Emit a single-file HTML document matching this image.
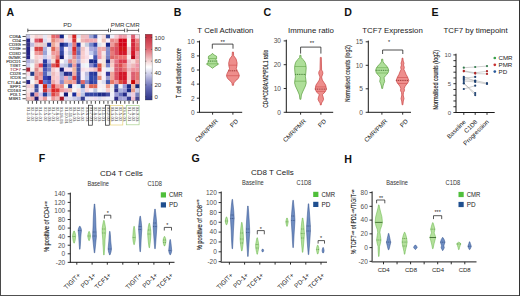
<!DOCTYPE html><html><head><meta charset="utf-8"><style>html,body{margin:0;padding:0;background:#fff;}svg{display:block;}</style></head><body>
<svg width="520" height="296" viewBox="0 0 520 296" font-family='"Liberation Sans", sans-serif'>
<rect x="0" y="0" width="520" height="296" fill="#fff"/>
<text x="6.5" y="16" font-size="10.5" text-anchor="start" fill="#111" font-weight="bold" >A</text>
<line x1="27.8" y1="30.4" x2="108.5" y2="30.4" stroke="#222" stroke-width="0.7" />
<line x1="27.8" y1="28.6" x2="27.8" y2="32.2" stroke="#222" stroke-width="0.7" />
<line x1="108.5" y1="28.6" x2="108.5" y2="32.2" stroke="#222" stroke-width="0.7" />
<line x1="110.5" y1="30.4" x2="124.6" y2="30.4" stroke="#222" stroke-width="0.7" />
<line x1="110.5" y1="28.6" x2="110.5" y2="32.2" stroke="#222" stroke-width="0.7" />
<line x1="124.6" y1="28.6" x2="124.6" y2="32.2" stroke="#222" stroke-width="0.7" />
<line x1="127.1" y1="30.4" x2="138.6" y2="30.4" stroke="#222" stroke-width="0.7" />
<line x1="127.1" y1="28.6" x2="127.1" y2="32.2" stroke="#222" stroke-width="0.7" />
<line x1="138.6" y1="28.6" x2="138.6" y2="32.2" stroke="#222" stroke-width="0.7" />
<text x="67.5" y="27.3" font-size="6.2" text-anchor="middle" fill="#333" font-weight="normal" >PD</text>
<text x="117.7" y="27.3" font-size="6.2" text-anchor="middle" fill="#333" font-weight="normal" >PMR</text>
<text x="132.6" y="27.3" font-size="6.2" text-anchor="middle" fill="#333" font-weight="normal" >CMR</text>
<rect x="26.10" y="34.40" width="4.25" height="4.20" fill="#c5c5e7"/>
<rect x="30.30" y="34.40" width="4.25" height="4.20" fill="#f8e7e7"/>
<rect x="34.50" y="34.40" width="4.25" height="4.20" fill="#f4cdcd"/>
<rect x="38.70" y="34.40" width="4.25" height="4.20" fill="#f4d6d6"/>
<rect x="42.90" y="34.40" width="4.25" height="4.20" fill="#e7e7f4"/>
<rect x="47.10" y="34.40" width="4.25" height="4.20" fill="#f8dede"/>
<rect x="51.30" y="34.40" width="4.25" height="4.20" fill="#e76767"/>
<rect x="55.50" y="34.40" width="4.25" height="4.20" fill="#de6778"/>
<rect x="59.70" y="34.40" width="4.25" height="4.20" fill="#132489"/>
<rect x="63.90" y="34.40" width="4.25" height="4.20" fill="#f8f8f8"/>
<rect x="68.10" y="34.40" width="4.25" height="4.20" fill="#f8cdcd"/>
<rect x="72.30" y="34.40" width="4.25" height="4.20" fill="#d62424"/>
<rect x="76.50" y="34.40" width="4.25" height="4.20" fill="#dee7f8"/>
<rect x="80.70" y="34.40" width="4.25" height="4.20" fill="#efbcbc"/>
<rect x="84.90" y="34.40" width="4.25" height="4.20" fill="#efbcc5"/>
<rect x="89.10" y="34.40" width="4.25" height="4.20" fill="#9aa3d6"/>
<rect x="93.30" y="34.40" width="4.25" height="4.20" fill="#4656ab"/>
<rect x="97.50" y="34.40" width="4.25" height="4.20" fill="#f8eff8"/>
<rect x="101.70" y="34.40" width="4.25" height="4.20" fill="#f8dede"/>
<rect x="105.90" y="34.40" width="4.25" height="4.20" fill="#35469a"/>
<rect x="110.10" y="34.40" width="4.25" height="4.20" fill="#efeff8"/>
<rect x="114.30" y="34.40" width="4.25" height="4.20" fill="#f7cad3"/>
<rect x="118.50" y="34.40" width="4.25" height="4.20" fill="#ee95a7"/>
<rect x="122.70" y="34.40" width="4.25" height="4.20" fill="#ee9ea7"/>
<rect x="126.90" y="34.40" width="4.25" height="4.20" fill="#f7e5ee"/>
<rect x="131.10" y="34.40" width="4.25" height="4.20" fill="#dc5f71"/>
<rect x="135.30" y="34.40" width="4.25" height="4.20" fill="#f7dce5"/>
<rect x="26.10" y="38.55" width="4.25" height="4.20" fill="#242489"/>
<rect x="30.30" y="38.55" width="4.25" height="4.20" fill="#f4eff4"/>
<rect x="34.50" y="38.55" width="4.25" height="4.20" fill="#de5667"/>
<rect x="38.70" y="38.55" width="4.25" height="4.20" fill="#cd3546"/>
<rect x="42.90" y="38.55" width="4.25" height="4.20" fill="#dedeef"/>
<rect x="47.10" y="38.55" width="4.25" height="4.20" fill="#f8e7ef"/>
<rect x="51.30" y="38.55" width="4.25" height="4.20" fill="#e78978"/>
<rect x="55.50" y="38.55" width="4.25" height="4.20" fill="#efabab"/>
<rect x="59.70" y="38.55" width="4.25" height="4.20" fill="#efb4bc"/>
<rect x="63.90" y="38.55" width="4.25" height="4.20" fill="#efe7f8"/>
<rect x="68.10" y="38.55" width="4.25" height="4.20" fill="#f8dee7"/>
<rect x="72.30" y="38.55" width="4.25" height="4.20" fill="#d63535"/>
<rect x="76.50" y="38.55" width="4.25" height="4.20" fill="#f8f8ef"/>
<rect x="80.70" y="38.55" width="4.25" height="4.20" fill="#efb4b4"/>
<rect x="84.90" y="38.55" width="4.25" height="4.20" fill="#efa3ab"/>
<rect x="89.10" y="38.55" width="4.25" height="4.20" fill="#efabb4"/>
<rect x="93.30" y="38.55" width="4.25" height="4.20" fill="#efabb4"/>
<rect x="97.50" y="38.55" width="4.25" height="4.20" fill="#f8f8f8"/>
<rect x="101.70" y="38.55" width="4.25" height="4.20" fill="#efc5bc"/>
<rect x="105.90" y="38.55" width="4.25" height="4.20" fill="#f8eff8"/>
<rect x="110.10" y="38.55" width="4.25" height="4.20" fill="#e78989"/>
<rect x="114.30" y="38.55" width="4.25" height="4.20" fill="#ee9595"/>
<rect x="118.50" y="38.55" width="4.25" height="4.20" fill="#d30517"/>
<rect x="122.70" y="38.55" width="4.25" height="4.20" fill="#d30517"/>
<rect x="126.90" y="38.55" width="4.25" height="4.20" fill="#f7f7ee"/>
<rect x="131.10" y="38.55" width="4.25" height="4.20" fill="#d3293b"/>
<rect x="135.30" y="38.55" width="4.25" height="4.20" fill="#ee8383"/>
<rect x="26.10" y="42.70" width="4.25" height="4.20" fill="#353589"/>
<rect x="30.30" y="42.70" width="4.25" height="4.20" fill="#bcbcde"/>
<rect x="34.50" y="42.70" width="4.25" height="4.20" fill="#efc5c5"/>
<rect x="38.70" y="42.70" width="4.25" height="4.20" fill="#efcdc5"/>
<rect x="42.90" y="42.70" width="4.25" height="4.20" fill="#decdd6"/>
<rect x="47.10" y="42.70" width="4.25" height="4.20" fill="#24359a"/>
<rect x="51.30" y="42.70" width="4.25" height="4.20" fill="#efab9a"/>
<rect x="55.50" y="42.70" width="4.25" height="4.20" fill="#f8cdcd"/>
<rect x="59.70" y="42.70" width="4.25" height="4.20" fill="#132489"/>
<rect x="63.90" y="42.70" width="4.25" height="4.20" fill="#3d4eab"/>
<rect x="68.10" y="42.70" width="4.25" height="4.20" fill="#abb4e7"/>
<rect x="72.30" y="42.70" width="4.25" height="4.20" fill="#e77878"/>
<rect x="76.50" y="42.70" width="4.25" height="4.20" fill="#1b2c9a"/>
<rect x="80.70" y="42.70" width="4.25" height="4.20" fill="#f8efef"/>
<rect x="84.90" y="42.70" width="4.25" height="4.20" fill="#c5cdde"/>
<rect x="89.10" y="42.70" width="4.25" height="4.20" fill="#7889cd"/>
<rect x="93.30" y="42.70" width="4.25" height="4.20" fill="#2c3da3"/>
<rect x="97.50" y="42.70" width="4.25" height="4.20" fill="#dee7ef"/>
<rect x="101.70" y="42.70" width="4.25" height="4.20" fill="#f8efef"/>
<rect x="105.90" y="42.70" width="4.25" height="4.20" fill="#132489"/>
<rect x="110.10" y="42.70" width="4.25" height="4.20" fill="#ef9a9a"/>
<rect x="114.30" y="42.70" width="4.25" height="4.20" fill="#dc5f5f"/>
<rect x="118.50" y="42.70" width="4.25" height="4.20" fill="#d30517"/>
<rect x="122.70" y="42.70" width="4.25" height="4.20" fill="#d30517"/>
<rect x="126.90" y="42.70" width="4.25" height="4.20" fill="#f7f7ee"/>
<rect x="131.10" y="42.70" width="4.25" height="4.20" fill="#d3293b"/>
<rect x="135.30" y="42.70" width="4.25" height="4.20" fill="#e57171"/>
<rect x="26.10" y="46.85" width="4.25" height="4.20" fill="#242489"/>
<rect x="30.30" y="46.85" width="4.25" height="4.20" fill="#efeff8"/>
<rect x="34.50" y="46.85" width="4.25" height="4.20" fill="#d64646"/>
<rect x="38.70" y="46.85" width="4.25" height="4.20" fill="#d64646"/>
<rect x="42.90" y="46.85" width="4.25" height="4.20" fill="#abb4de"/>
<rect x="47.10" y="46.85" width="4.25" height="4.20" fill="#efeff8"/>
<rect x="51.30" y="46.85" width="4.25" height="4.20" fill="#de6756"/>
<rect x="55.50" y="46.85" width="4.25" height="4.20" fill="#efabab"/>
<rect x="59.70" y="46.85" width="4.25" height="4.20" fill="#4656b4"/>
<rect x="63.90" y="46.85" width="4.25" height="4.20" fill="#f8eff8"/>
<rect x="68.10" y="46.85" width="4.25" height="4.20" fill="#cdc5ef"/>
<rect x="72.30" y="46.85" width="4.25" height="4.20" fill="#d62c2c"/>
<rect x="76.50" y="46.85" width="4.25" height="4.20" fill="#7881c5"/>
<rect x="80.70" y="46.85" width="4.25" height="4.20" fill="#efc5c5"/>
<rect x="84.90" y="46.85" width="4.25" height="4.20" fill="#f8e7ef"/>
<rect x="89.10" y="46.85" width="4.25" height="4.20" fill="#ababde"/>
<rect x="93.30" y="46.85" width="4.25" height="4.20" fill="#9a9ad6"/>
<rect x="97.50" y="46.85" width="4.25" height="4.20" fill="#efabab"/>
<rect x="101.70" y="46.85" width="4.25" height="4.20" fill="#efabab"/>
<rect x="105.90" y="46.85" width="4.25" height="4.20" fill="#8992cd"/>
<rect x="110.10" y="46.85" width="4.25" height="4.20" fill="#de6767"/>
<rect x="114.30" y="46.85" width="4.25" height="4.20" fill="#dc4d5f"/>
<rect x="118.50" y="46.85" width="4.25" height="4.20" fill="#d31717"/>
<rect x="122.70" y="46.85" width="4.25" height="4.20" fill="#d31717"/>
<rect x="126.90" y="46.85" width="4.25" height="4.20" fill="#eecad3"/>
<rect x="131.10" y="46.85" width="4.25" height="4.20" fill="#d3293b"/>
<rect x="135.30" y="46.85" width="4.25" height="4.20" fill="#e55f5f"/>
<rect x="26.10" y="51.00" width="4.25" height="4.20" fill="#242489"/>
<rect x="30.30" y="51.00" width="4.25" height="4.20" fill="#f8f8f8"/>
<rect x="34.50" y="51.00" width="4.25" height="4.20" fill="#ef9a9a"/>
<rect x="38.70" y="51.00" width="4.25" height="4.20" fill="#e78989"/>
<rect x="42.90" y="51.00" width="4.25" height="4.20" fill="#9aa3d6"/>
<rect x="47.10" y="51.00" width="4.25" height="4.20" fill="#efeff8"/>
<rect x="51.30" y="51.00" width="4.25" height="4.20" fill="#ef9a9a"/>
<rect x="55.50" y="51.00" width="4.25" height="4.20" fill="#ef9a9a"/>
<rect x="59.70" y="51.00" width="4.25" height="4.20" fill="#3546a3"/>
<rect x="63.90" y="51.00" width="4.25" height="4.20" fill="#efe7f8"/>
<rect x="68.10" y="51.00" width="4.25" height="4.20" fill="#bcc5de"/>
<rect x="72.30" y="51.00" width="4.25" height="4.20" fill="#de4646"/>
<rect x="76.50" y="51.00" width="4.25" height="4.20" fill="#6770bc"/>
<rect x="80.70" y="51.00" width="4.25" height="4.20" fill="#f8cdcd"/>
<rect x="84.90" y="51.00" width="4.25" height="4.20" fill="#f8e7ef"/>
<rect x="89.10" y="51.00" width="4.25" height="4.20" fill="#c5cdef"/>
<rect x="93.30" y="51.00" width="4.25" height="4.20" fill="#8992cd"/>
<rect x="97.50" y="51.00" width="4.25" height="4.20" fill="#efa3ab"/>
<rect x="101.70" y="51.00" width="4.25" height="4.20" fill="#f8e7e7"/>
<rect x="105.90" y="51.00" width="4.25" height="4.20" fill="#8189cd"/>
<rect x="110.10" y="51.00" width="4.25" height="4.20" fill="#e77878"/>
<rect x="114.30" y="51.00" width="4.25" height="4.20" fill="#dc4d5f"/>
<rect x="118.50" y="51.00" width="4.25" height="4.20" fill="#d31729"/>
<rect x="122.70" y="51.00" width="4.25" height="4.20" fill="#d31729"/>
<rect x="126.90" y="51.00" width="4.25" height="4.20" fill="#eecaca"/>
<rect x="131.10" y="51.00" width="4.25" height="4.20" fill="#d31729"/>
<rect x="135.30" y="51.00" width="4.25" height="4.20" fill="#ee959e"/>
<rect x="26.10" y="55.15" width="4.25" height="4.20" fill="#242489"/>
<rect x="30.30" y="55.15" width="4.25" height="4.20" fill="#f8f8f8"/>
<rect x="34.50" y="55.15" width="4.25" height="4.20" fill="#f8cdcd"/>
<rect x="38.70" y="55.15" width="4.25" height="4.20" fill="#f8d6de"/>
<rect x="42.90" y="55.15" width="4.25" height="4.20" fill="#c5cdef"/>
<rect x="47.10" y="55.15" width="4.25" height="4.20" fill="#efdeef"/>
<rect x="51.30" y="55.15" width="4.25" height="4.20" fill="#efbcb4"/>
<rect x="55.50" y="55.15" width="4.25" height="4.20" fill="#e77878"/>
<rect x="59.70" y="55.15" width="4.25" height="4.20" fill="#131b78"/>
<rect x="63.90" y="55.15" width="4.25" height="4.20" fill="#f8eff8"/>
<rect x="68.10" y="55.15" width="4.25" height="4.20" fill="#d6d6e7"/>
<rect x="72.30" y="55.15" width="4.25" height="4.20" fill="#e78989"/>
<rect x="76.50" y="55.15" width="4.25" height="4.20" fill="#9a9ad6"/>
<rect x="80.70" y="55.15" width="4.25" height="4.20" fill="#f8cdcd"/>
<rect x="84.90" y="55.15" width="4.25" height="4.20" fill="#f8dee7"/>
<rect x="89.10" y="55.15" width="4.25" height="4.20" fill="#f8f8ff"/>
<rect x="93.30" y="55.15" width="4.25" height="4.20" fill="#4656b4"/>
<rect x="97.50" y="55.15" width="4.25" height="4.20" fill="#ef9aab"/>
<rect x="101.70" y="55.15" width="4.25" height="4.20" fill="#f8ded6"/>
<rect x="105.90" y="55.15" width="4.25" height="4.20" fill="#7881c5"/>
<rect x="110.10" y="55.15" width="4.25" height="4.20" fill="#de6767"/>
<rect x="114.30" y="55.15" width="4.25" height="4.20" fill="#e57171"/>
<rect x="118.50" y="55.15" width="4.25" height="4.20" fill="#ee7171"/>
<rect x="122.70" y="55.15" width="4.25" height="4.20" fill="#ee7171"/>
<rect x="126.90" y="55.15" width="4.25" height="4.20" fill="#f7eeee"/>
<rect x="131.10" y="55.15" width="4.25" height="4.20" fill="#b80517"/>
<rect x="135.30" y="55.15" width="4.25" height="4.20" fill="#ee959e"/>
<rect x="26.10" y="59.30" width="4.25" height="4.20" fill="#ababde"/>
<rect x="30.30" y="59.30" width="4.25" height="4.20" fill="#cdcdde"/>
<rect x="34.50" y="59.30" width="4.25" height="4.20" fill="#e7c5c5"/>
<rect x="38.70" y="59.30" width="4.25" height="4.20" fill="#f8dee7"/>
<rect x="42.90" y="59.30" width="4.25" height="4.20" fill="#2c3da3"/>
<rect x="47.10" y="59.30" width="4.25" height="4.20" fill="#bcbcef"/>
<rect x="51.30" y="59.30" width="4.25" height="4.20" fill="#f8ded6"/>
<rect x="55.50" y="59.30" width="4.25" height="4.20" fill="#cd2424"/>
<rect x="59.70" y="59.30" width="4.25" height="4.20" fill="#f8f8f8"/>
<rect x="63.90" y="59.30" width="4.25" height="4.20" fill="#d6d6ef"/>
<rect x="68.10" y="59.30" width="4.25" height="4.20" fill="#de8992"/>
<rect x="72.30" y="59.30" width="4.25" height="4.20" fill="#efb4a3"/>
<rect x="76.50" y="59.30" width="4.25" height="4.20" fill="#ababde"/>
<rect x="80.70" y="59.30" width="4.25" height="4.20" fill="#f8dede"/>
<rect x="84.90" y="59.30" width="4.25" height="4.20" fill="#f8e7ef"/>
<rect x="89.10" y="59.30" width="4.25" height="4.20" fill="#1b2c89"/>
<rect x="93.30" y="59.30" width="4.25" height="4.20" fill="#1b2c92"/>
<rect x="97.50" y="59.30" width="4.25" height="4.20" fill="#f8e7ef"/>
<rect x="101.70" y="59.30" width="4.25" height="4.20" fill="#f8e7de"/>
<rect x="105.90" y="59.30" width="4.25" height="4.20" fill="#242c89"/>
<rect x="110.10" y="59.30" width="4.25" height="4.20" fill="#efbcbc"/>
<rect x="114.30" y="59.30" width="4.25" height="4.20" fill="#e57183"/>
<rect x="118.50" y="59.30" width="4.25" height="4.20" fill="#dc3b4d"/>
<rect x="122.70" y="59.30" width="4.25" height="4.20" fill="#dc3b4d"/>
<rect x="126.90" y="59.30" width="4.25" height="4.20" fill="#eecad3"/>
<rect x="131.10" y="59.30" width="4.25" height="4.20" fill="#f7dcdc"/>
<rect x="135.30" y="59.30" width="4.25" height="4.20" fill="#eea7a7"/>
<rect x="26.10" y="63.45" width="4.25" height="4.20" fill="#cdcdef"/>
<rect x="30.30" y="63.45" width="4.25" height="4.20" fill="#eff8f8"/>
<rect x="34.50" y="63.45" width="4.25" height="4.20" fill="#efabab"/>
<rect x="38.70" y="63.45" width="4.25" height="4.20" fill="#de4656"/>
<rect x="42.90" y="63.45" width="4.25" height="4.20" fill="#24359a"/>
<rect x="47.10" y="63.45" width="4.25" height="4.20" fill="#7881c5"/>
<rect x="51.30" y="63.45" width="4.25" height="4.20" fill="#de5656"/>
<rect x="55.50" y="63.45" width="4.25" height="4.20" fill="#d62424"/>
<rect x="59.70" y="63.45" width="4.25" height="4.20" fill="#cdcdef"/>
<rect x="63.90" y="63.45" width="4.25" height="4.20" fill="#bcc5de"/>
<rect x="68.10" y="63.45" width="4.25" height="4.20" fill="#5667b4"/>
<rect x="72.30" y="63.45" width="4.25" height="4.20" fill="#ef9a9a"/>
<rect x="76.50" y="63.45" width="4.25" height="4.20" fill="#464eab"/>
<rect x="80.70" y="63.45" width="4.25" height="4.20" fill="#efeff8"/>
<rect x="84.90" y="63.45" width="4.25" height="4.20" fill="#eff8f8"/>
<rect x="89.10" y="63.45" width="4.25" height="4.20" fill="#8989cd"/>
<rect x="93.30" y="63.45" width="4.25" height="4.20" fill="#3546ab"/>
<rect x="97.50" y="63.45" width="4.25" height="4.20" fill="#de5646"/>
<rect x="101.70" y="63.45" width="4.25" height="4.20" fill="#f8decd"/>
<rect x="105.90" y="63.45" width="4.25" height="4.20" fill="#7881cd"/>
<rect x="110.10" y="63.45" width="4.25" height="4.20" fill="#f8cdc5"/>
<rect x="114.30" y="63.45" width="4.25" height="4.20" fill="#dc5f71"/>
<rect x="118.50" y="63.45" width="4.25" height="4.20" fill="#dc4d4d"/>
<rect x="122.70" y="63.45" width="4.25" height="4.20" fill="#ee8383"/>
<rect x="126.90" y="63.45" width="4.25" height="4.20" fill="#eecad3"/>
<rect x="131.10" y="63.45" width="4.25" height="4.20" fill="#eeb8b8"/>
<rect x="135.30" y="63.45" width="4.25" height="4.20" fill="#ee95a7"/>
<rect x="26.10" y="67.60" width="4.25" height="4.20" fill="#ab2435"/>
<rect x="30.30" y="67.60" width="4.25" height="4.20" fill="#f8efef"/>
<rect x="34.50" y="67.60" width="4.25" height="4.20" fill="#de8989"/>
<rect x="38.70" y="67.60" width="4.25" height="4.20" fill="#f8cdc5"/>
<rect x="42.90" y="67.60" width="4.25" height="4.20" fill="#4656bc"/>
<rect x="47.10" y="67.60" width="4.25" height="4.20" fill="#7881c5"/>
<rect x="51.30" y="67.60" width="4.25" height="4.20" fill="#f8cdcd"/>
<rect x="55.50" y="67.60" width="4.25" height="4.20" fill="#f8e7ef"/>
<rect x="59.70" y="67.60" width="4.25" height="4.20" fill="#131b78"/>
<rect x="63.90" y="67.60" width="4.25" height="4.20" fill="#f8deef"/>
<rect x="68.10" y="67.60" width="4.25" height="4.20" fill="#f8deef"/>
<rect x="72.30" y="67.60" width="4.25" height="4.20" fill="#efb49a"/>
<rect x="76.50" y="67.60" width="4.25" height="4.20" fill="#4656ab"/>
<rect x="80.70" y="67.60" width="4.25" height="4.20" fill="#f8dee7"/>
<rect x="84.90" y="67.60" width="4.25" height="4.20" fill="#f8e7ef"/>
<rect x="89.10" y="67.60" width="4.25" height="4.20" fill="#f8d6de"/>
<rect x="93.30" y="67.60" width="4.25" height="4.20" fill="#efbcc5"/>
<rect x="97.50" y="67.60" width="4.25" height="4.20" fill="#d64646"/>
<rect x="101.70" y="67.60" width="4.25" height="4.20" fill="#f8eff8"/>
<rect x="105.90" y="67.60" width="4.25" height="4.20" fill="#e7eff8"/>
<rect x="110.10" y="67.60" width="4.25" height="4.20" fill="#efdede"/>
<rect x="114.30" y="67.60" width="4.25" height="4.20" fill="#dc5f71"/>
<rect x="118.50" y="67.60" width="4.25" height="4.20" fill="#dc4d5f"/>
<rect x="122.70" y="67.60" width="4.25" height="4.20" fill="#e57171"/>
<rect x="126.90" y="67.60" width="4.25" height="4.20" fill="#eeb8c1"/>
<rect x="131.10" y="67.60" width="4.25" height="4.20" fill="#ee959e"/>
<rect x="135.30" y="67.60" width="4.25" height="4.20" fill="#ee959e"/>
<rect x="26.10" y="71.75" width="4.25" height="4.20" fill="#f8dee7"/>
<rect x="30.30" y="71.75" width="4.25" height="4.20" fill="#243d89"/>
<rect x="34.50" y="71.75" width="4.25" height="4.20" fill="#e79a9a"/>
<rect x="38.70" y="71.75" width="4.25" height="4.20" fill="#e78989"/>
<rect x="42.90" y="71.75" width="4.25" height="4.20" fill="#5667bc"/>
<rect x="47.10" y="71.75" width="4.25" height="4.20" fill="#bcc5e7"/>
<rect x="51.30" y="71.75" width="4.25" height="4.20" fill="#efbcbc"/>
<rect x="55.50" y="71.75" width="4.25" height="4.20" fill="#f8d6de"/>
<rect x="59.70" y="71.75" width="4.25" height="4.20" fill="#9aa3d6"/>
<rect x="63.90" y="71.75" width="4.25" height="4.20" fill="#242c89"/>
<rect x="68.10" y="71.75" width="4.25" height="4.20" fill="#353d9a"/>
<rect x="72.30" y="71.75" width="4.25" height="4.20" fill="#efaba3"/>
<rect x="76.50" y="71.75" width="4.25" height="4.20" fill="#464eab"/>
<rect x="80.70" y="71.75" width="4.25" height="4.20" fill="#f8eff8"/>
<rect x="84.90" y="71.75" width="4.25" height="4.20" fill="#bcbcde"/>
<rect x="89.10" y="71.75" width="4.25" height="4.20" fill="#2c3da3"/>
<rect x="93.30" y="71.75" width="4.25" height="4.20" fill="#24359a"/>
<rect x="97.50" y="71.75" width="4.25" height="4.20" fill="#f8d6d6"/>
<rect x="101.70" y="71.75" width="4.25" height="4.20" fill="#f8eff8"/>
<rect x="105.90" y="71.75" width="4.25" height="4.20" fill="#35359a"/>
<rect x="110.10" y="71.75" width="4.25" height="4.20" fill="#efa39a"/>
<rect x="114.30" y="71.75" width="4.25" height="4.20" fill="#dc4d5f"/>
<rect x="118.50" y="71.75" width="4.25" height="4.20" fill="#d31729"/>
<rect x="122.70" y="71.75" width="4.25" height="4.20" fill="#d31729"/>
<rect x="126.90" y="71.75" width="4.25" height="4.20" fill="#f7caca"/>
<rect x="131.10" y="71.75" width="4.25" height="4.20" fill="#dc5f71"/>
<rect x="135.30" y="71.75" width="4.25" height="4.20" fill="#e57171"/>
<rect x="26.10" y="75.90" width="4.25" height="4.20" fill="#efeff8"/>
<rect x="30.30" y="75.90" width="4.25" height="4.20" fill="#e7eff8"/>
<rect x="34.50" y="75.90" width="4.25" height="4.20" fill="#de7878"/>
<rect x="38.70" y="75.90" width="4.25" height="4.20" fill="#efa3a3"/>
<rect x="42.90" y="75.90" width="4.25" height="4.20" fill="#3546b4"/>
<rect x="47.10" y="75.90" width="4.25" height="4.20" fill="#242c9a"/>
<rect x="51.30" y="75.90" width="4.25" height="4.20" fill="#f8c5c5"/>
<rect x="55.50" y="75.90" width="4.25" height="4.20" fill="#f8cdd6"/>
<rect x="59.70" y="75.90" width="4.25" height="4.20" fill="#ababde"/>
<rect x="63.90" y="75.90" width="4.25" height="4.20" fill="#efabbc"/>
<rect x="68.10" y="75.90" width="4.25" height="4.20" fill="#abb4d6"/>
<rect x="72.30" y="75.90" width="4.25" height="4.20" fill="#de4646"/>
<rect x="76.50" y="75.90" width="4.25" height="4.20" fill="#3d46a3"/>
<rect x="80.70" y="75.90" width="4.25" height="4.20" fill="#f8eff8"/>
<rect x="84.90" y="75.90" width="4.25" height="4.20" fill="#bcc5e7"/>
<rect x="89.10" y="75.90" width="4.25" height="4.20" fill="#2c46ab"/>
<rect x="93.30" y="75.90" width="4.25" height="4.20" fill="#3d4eab"/>
<rect x="97.50" y="75.90" width="4.25" height="4.20" fill="#e78978"/>
<rect x="101.70" y="75.90" width="4.25" height="4.20" fill="#f8eff8"/>
<rect x="105.90" y="75.90" width="4.25" height="4.20" fill="#9a9acd"/>
<rect x="110.10" y="75.90" width="4.25" height="4.20" fill="#efa39a"/>
<rect x="114.30" y="75.90" width="4.25" height="4.20" fill="#dc4d5f"/>
<rect x="118.50" y="75.90" width="4.25" height="4.20" fill="#d31729"/>
<rect x="122.70" y="75.90" width="4.25" height="4.20" fill="#d31729"/>
<rect x="126.90" y="75.90" width="4.25" height="4.20" fill="#f7caca"/>
<rect x="131.10" y="75.90" width="4.25" height="4.20" fill="#dc5f71"/>
<rect x="135.30" y="75.90" width="4.25" height="4.20" fill="#e57171"/>
<rect x="26.10" y="80.05" width="4.25" height="4.20" fill="#242489"/>
<rect x="30.30" y="80.05" width="4.25" height="4.20" fill="#f8f8f8"/>
<rect x="34.50" y="80.05" width="4.25" height="4.20" fill="#f8cdc5"/>
<rect x="38.70" y="80.05" width="4.25" height="4.20" fill="#cd1b24"/>
<rect x="42.90" y="80.05" width="4.25" height="4.20" fill="#6778cd"/>
<rect x="47.10" y="80.05" width="4.25" height="4.20" fill="#4656bc"/>
<rect x="51.30" y="80.05" width="4.25" height="4.20" fill="#efabab"/>
<rect x="55.50" y="80.05" width="4.25" height="4.20" fill="#f8cdd6"/>
<rect x="59.70" y="80.05" width="4.25" height="4.20" fill="#8989cd"/>
<rect x="63.90" y="80.05" width="4.25" height="4.20" fill="#efab9a"/>
<rect x="68.10" y="80.05" width="4.25" height="4.20" fill="#ef9a89"/>
<rect x="72.30" y="80.05" width="4.25" height="4.20" fill="#ef9a9a"/>
<rect x="76.50" y="80.05" width="4.25" height="4.20" fill="#353d9a"/>
<rect x="80.70" y="80.05" width="4.25" height="4.20" fill="#de6767"/>
<rect x="84.90" y="80.05" width="4.25" height="4.20" fill="#8189cd"/>
<rect x="89.10" y="80.05" width="4.25" height="4.20" fill="#2c3da3"/>
<rect x="93.30" y="80.05" width="4.25" height="4.20" fill="#3d4eab"/>
<rect x="97.50" y="80.05" width="4.25" height="4.20" fill="#f8efef"/>
<rect x="101.70" y="80.05" width="4.25" height="4.20" fill="#dedeef"/>
<rect x="105.90" y="80.05" width="4.25" height="4.20" fill="#4656ab"/>
<rect x="110.10" y="80.05" width="4.25" height="4.20" fill="#e77867"/>
<rect x="114.30" y="80.05" width="4.25" height="4.20" fill="#ee959e"/>
<rect x="118.50" y="80.05" width="4.25" height="4.20" fill="#dc4d3b"/>
<rect x="122.70" y="80.05" width="4.25" height="4.20" fill="#d3293b"/>
<rect x="126.90" y="80.05" width="4.25" height="4.20" fill="#f7d3d3"/>
<rect x="131.10" y="80.05" width="4.25" height="4.20" fill="#ca0505"/>
<rect x="135.30" y="80.05" width="4.25" height="4.20" fill="#ee9595"/>
<rect x="26.10" y="84.20" width="4.25" height="4.20" fill="#efcdd6"/>
<rect x="30.30" y="84.20" width="4.25" height="4.20" fill="#f8d6cd"/>
<rect x="34.50" y="84.20" width="4.25" height="4.20" fill="#35469a"/>
<rect x="38.70" y="84.20" width="4.25" height="4.20" fill="#efe7f8"/>
<rect x="42.90" y="84.20" width="4.25" height="4.20" fill="#cd2413"/>
<rect x="47.10" y="84.20" width="4.25" height="4.20" fill="#9aa3de"/>
<rect x="51.30" y="84.20" width="4.25" height="4.20" fill="#de3535"/>
<rect x="55.50" y="84.20" width="4.25" height="4.20" fill="#ef9a9a"/>
<rect x="59.70" y="84.20" width="4.25" height="4.20" fill="#e78989"/>
<rect x="63.90" y="84.20" width="4.25" height="4.20" fill="#eff8ef"/>
<rect x="68.10" y="84.20" width="4.25" height="4.20" fill="#1b2c89"/>
<rect x="72.30" y="84.20" width="4.25" height="4.20" fill="#f8eff8"/>
<rect x="76.50" y="84.20" width="4.25" height="4.20" fill="#deeff8"/>
<rect x="80.70" y="84.20" width="4.25" height="4.20" fill="#3556a3"/>
<rect x="84.90" y="84.20" width="4.25" height="4.20" fill="#f8cdcd"/>
<rect x="89.10" y="84.20" width="4.25" height="4.20" fill="#de6756"/>
<rect x="93.30" y="84.20" width="4.25" height="4.20" fill="#de6756"/>
<rect x="97.50" y="84.20" width="4.25" height="4.20" fill="#f8eff8"/>
<rect x="101.70" y="84.20" width="4.25" height="4.20" fill="#f8efef"/>
<rect x="105.90" y="84.20" width="4.25" height="4.20" fill="#ef9a89"/>
<rect x="110.10" y="84.20" width="4.25" height="4.20" fill="#efe7e7"/>
<rect x="114.30" y="84.20" width="4.25" height="4.20" fill="#3d4ea3"/>
<rect x="118.50" y="84.20" width="4.25" height="4.20" fill="#efeff8"/>
<rect x="122.70" y="84.20" width="4.25" height="4.20" fill="#9a9ad6"/>
<rect x="126.90" y="84.20" width="4.25" height="4.20" fill="#1b2c89"/>
<rect x="131.10" y="84.20" width="4.25" height="4.20" fill="#efbcab"/>
<rect x="135.30" y="84.20" width="4.25" height="4.20" fill="#1b2c78"/>
<rect x="26.10" y="88.35" width="4.25" height="4.20" fill="#f8e7e7"/>
<rect x="30.30" y="88.35" width="4.25" height="4.20" fill="#efdee7"/>
<rect x="34.50" y="88.35" width="4.25" height="4.20" fill="#4656a3"/>
<rect x="38.70" y="88.35" width="4.25" height="4.20" fill="#f8eff8"/>
<rect x="42.90" y="88.35" width="4.25" height="4.20" fill="#cd3535"/>
<rect x="47.10" y="88.35" width="4.25" height="4.20" fill="#e79aab"/>
<rect x="51.30" y="88.35" width="4.25" height="4.20" fill="#de2424"/>
<rect x="55.50" y="88.35" width="4.25" height="4.20" fill="#de3535"/>
<rect x="59.70" y="88.35" width="4.25" height="4.20" fill="#ef9a9a"/>
<rect x="63.90" y="88.35" width="4.25" height="4.20" fill="#efabbc"/>
<rect x="68.10" y="88.35" width="4.25" height="4.20" fill="#efbcab"/>
<rect x="72.30" y="88.35" width="4.25" height="4.20" fill="#f8f8f8"/>
<rect x="76.50" y="88.35" width="4.25" height="4.20" fill="#f8dede"/>
<rect x="80.70" y="88.35" width="4.25" height="4.20" fill="#c5cdef"/>
<rect x="84.90" y="88.35" width="4.25" height="4.20" fill="#f8d6de"/>
<rect x="89.10" y="88.35" width="4.25" height="4.20" fill="#f8eff8"/>
<rect x="93.30" y="88.35" width="4.25" height="4.20" fill="#bcc5de"/>
<rect x="97.50" y="88.35" width="4.25" height="4.20" fill="#f8f8f8"/>
<rect x="101.70" y="88.35" width="4.25" height="4.20" fill="#efeff8"/>
<rect x="105.90" y="88.35" width="4.25" height="4.20" fill="#f8cdcd"/>
<rect x="110.10" y="88.35" width="4.25" height="4.20" fill="#efefef"/>
<rect x="114.30" y="88.35" width="4.25" height="4.20" fill="#2c2c89"/>
<rect x="118.50" y="88.35" width="4.25" height="4.20" fill="#abb4de"/>
<rect x="122.70" y="88.35" width="4.25" height="4.20" fill="#9a9ad6"/>
<rect x="126.90" y="88.35" width="4.25" height="4.20" fill="#1b2c89"/>
<rect x="131.10" y="88.35" width="4.25" height="4.20" fill="#e79a89"/>
<rect x="135.30" y="88.35" width="4.25" height="4.20" fill="#cdcde7"/>
<rect x="26.10" y="92.50" width="4.25" height="4.20" fill="#f8d6d6"/>
<rect x="30.30" y="92.50" width="4.25" height="4.20" fill="#242c89"/>
<rect x="34.50" y="92.50" width="4.25" height="4.20" fill="#e79aa3"/>
<rect x="38.70" y="92.50" width="4.25" height="4.20" fill="#cdc5ef"/>
<rect x="42.90" y="92.50" width="4.25" height="4.20" fill="#243d9a"/>
<rect x="47.10" y="92.50" width="4.25" height="4.20" fill="#abb4de"/>
<rect x="51.30" y="92.50" width="4.25" height="4.20" fill="#de4646"/>
<rect x="55.50" y="92.50" width="4.25" height="4.20" fill="#e77878"/>
<rect x="59.70" y="92.50" width="4.25" height="4.20" fill="#f8eff8"/>
<rect x="63.90" y="92.50" width="4.25" height="4.20" fill="#131b78"/>
<rect x="68.10" y="92.50" width="4.25" height="4.20" fill="#f8efef"/>
<rect x="72.30" y="92.50" width="4.25" height="4.20" fill="#1b2c9a"/>
<rect x="76.50" y="92.50" width="4.25" height="4.20" fill="#f8cdc5"/>
<rect x="80.70" y="92.50" width="4.25" height="4.20" fill="#bcc5e7"/>
<rect x="84.90" y="92.50" width="4.25" height="4.20" fill="#3546a3"/>
<rect x="89.10" y="92.50" width="4.25" height="4.20" fill="#3546a3"/>
<rect x="93.30" y="92.50" width="4.25" height="4.20" fill="#3546a3"/>
<rect x="97.50" y="92.50" width="4.25" height="4.20" fill="#1b2c89"/>
<rect x="101.70" y="92.50" width="4.25" height="4.20" fill="#242c89"/>
<rect x="105.90" y="92.50" width="4.25" height="4.20" fill="#464ea3"/>
<rect x="110.10" y="92.50" width="4.25" height="4.20" fill="#efeff8"/>
<rect x="114.30" y="92.50" width="4.25" height="4.20" fill="#9a9ad6"/>
<rect x="118.50" y="92.50" width="4.25" height="4.20" fill="#6770bc"/>
<rect x="122.70" y="92.50" width="4.25" height="4.20" fill="#242c89"/>
<rect x="126.90" y="92.50" width="4.25" height="4.20" fill="#cdcdef"/>
<rect x="131.10" y="92.50" width="4.25" height="4.20" fill="#efcdde"/>
<rect x="135.30" y="92.50" width="4.25" height="4.20" fill="#7881bc"/>
<rect x="26.10" y="96.65" width="4.25" height="4.20" fill="#efbcbc"/>
<rect x="30.30" y="96.65" width="4.25" height="4.20" fill="#efb4b4"/>
<rect x="34.50" y="96.65" width="4.25" height="4.20" fill="#241b70"/>
<rect x="38.70" y="96.65" width="4.25" height="4.20" fill="#f8cdd6"/>
<rect x="42.90" y="96.65" width="4.25" height="4.20" fill="#e79a9a"/>
<rect x="47.10" y="96.65" width="4.25" height="4.20" fill="#f8eff8"/>
<rect x="51.30" y="96.65" width="4.25" height="4.20" fill="#ef9a9a"/>
<rect x="55.50" y="96.65" width="4.25" height="4.20" fill="#efbcbc"/>
<rect x="59.70" y="96.65" width="4.25" height="4.20" fill="#ab1324"/>
<rect x="63.90" y="96.65" width="4.25" height="4.20" fill="#ded6ef"/>
<rect x="68.10" y="96.65" width="4.25" height="4.20" fill="#dedeef"/>
<rect x="72.30" y="96.65" width="4.25" height="4.20" fill="#cdcde7"/>
<rect x="76.50" y="96.65" width="4.25" height="4.20" fill="#bcbcde"/>
<rect x="80.70" y="96.65" width="4.25" height="4.20" fill="#353d92"/>
<rect x="84.90" y="96.65" width="4.25" height="4.20" fill="#e7e7f8"/>
<rect x="89.10" y="96.65" width="4.25" height="4.20" fill="#efe7ef"/>
<rect x="93.30" y="96.65" width="4.25" height="4.20" fill="#efdeef"/>
<rect x="97.50" y="96.65" width="4.25" height="4.20" fill="#dedeef"/>
<rect x="101.70" y="96.65" width="4.25" height="4.20" fill="#efe7ef"/>
<rect x="105.90" y="96.65" width="4.25" height="4.20" fill="#efeff8"/>
<rect x="110.10" y="96.65" width="4.25" height="4.20" fill="#efeff8"/>
<rect x="114.30" y="96.65" width="4.25" height="4.20" fill="#2c2c89"/>
<rect x="118.50" y="96.65" width="4.25" height="4.20" fill="#a3a3d6"/>
<rect x="122.70" y="96.65" width="4.25" height="4.20" fill="#ababde"/>
<rect x="126.90" y="96.65" width="4.25" height="4.20" fill="#353d92"/>
<rect x="131.10" y="96.65" width="4.25" height="4.20" fill="#efbccd"/>
<rect x="135.30" y="96.65" width="4.25" height="4.20" fill="#464692"/>
<rect x="26.10" y="34.40" width="113.40" height="66.40" fill="none" stroke="#8a8a8a" stroke-width="0.5"/>
<text x="20.8" y="37.975" font-size="4.3" text-anchor="end" fill="#333" font-weight="normal" stroke="#333" stroke-width="0.12">CD8A</text>
<line x1="22.5" y1="36.475" x2="25.8" y2="36.475" stroke="#333" stroke-width="0.9" />
<text x="20.8" y="42.125" font-size="4.3" text-anchor="end" fill="#333" font-weight="normal" stroke="#333" stroke-width="0.12">CD4</text>
<line x1="22.5" y1="40.625" x2="25.8" y2="40.625" stroke="#333" stroke-width="0.9" />
<text x="20.8" y="46.275000000000006" font-size="4.3" text-anchor="end" fill="#333" font-weight="normal" stroke="#333" stroke-width="0.12">CD3G</text>
<line x1="22.5" y1="44.775000000000006" x2="25.8" y2="44.775000000000006" stroke="#333" stroke-width="0.9" />
<text x="20.8" y="50.425000000000004" font-size="4.3" text-anchor="end" fill="#333" font-weight="normal" stroke="#333" stroke-width="0.12">CD3E</text>
<line x1="22.5" y1="48.925000000000004" x2="25.8" y2="48.925000000000004" stroke="#333" stroke-width="0.9" />
<text x="20.8" y="54.575" font-size="4.3" text-anchor="end" fill="#333" font-weight="normal" stroke="#333" stroke-width="0.12">CD3D</text>
<line x1="22.5" y1="53.075" x2="25.8" y2="53.075" stroke="#333" stroke-width="0.9" />
<text x="20.8" y="58.725" font-size="4.3" text-anchor="end" fill="#333" font-weight="normal" stroke="#333" stroke-width="0.12">GZMK</text>
<line x1="22.5" y1="57.225" x2="25.8" y2="57.225" stroke="#333" stroke-width="0.9" />
<text x="20.8" y="62.875" font-size="4.3" text-anchor="end" fill="#333" font-weight="normal" stroke="#333" stroke-width="0.12">PDCD1</text>
<line x1="22.5" y1="61.375" x2="25.8" y2="61.375" stroke="#333" stroke-width="0.9" />
<text x="20.8" y="67.025" font-size="4.3" text-anchor="end" fill="#333" font-weight="normal" stroke="#333" stroke-width="0.12">TIGIT</text>
<line x1="22.5" y1="65.525" x2="25.8" y2="65.525" stroke="#333" stroke-width="0.9" />
<text x="20.8" y="71.175" font-size="4.3" text-anchor="end" fill="#a04050" font-weight="normal" stroke="#a04050" stroke-width="0.12">TCF7</text>
<line x1="22.5" y1="69.675" x2="25.8" y2="69.675" stroke="#333" stroke-width="0.9" />
<text x="20.8" y="75.325" font-size="4.3" text-anchor="end" fill="#333" font-weight="normal" stroke="#333" stroke-width="0.12">CD28</text>
<line x1="22.5" y1="73.825" x2="25.8" y2="73.825" stroke="#333" stroke-width="0.9" />
<text x="20.8" y="79.47500000000001" font-size="4.3" text-anchor="end" fill="#333" font-weight="normal" stroke="#333" stroke-width="0.12">ICOS</text>
<line x1="22.5" y1="77.97500000000001" x2="25.8" y2="77.97500000000001" stroke="#333" stroke-width="0.9" />
<text x="20.8" y="83.62500000000001" font-size="4.3" text-anchor="end" fill="#333" font-weight="normal" stroke="#333" stroke-width="0.12">CTLA4</text>
<line x1="22.5" y1="82.12500000000001" x2="25.8" y2="82.12500000000001" stroke="#333" stroke-width="0.9" />
<text x="20.8" y="87.775" font-size="4.3" text-anchor="end" fill="#333" font-weight="normal" stroke="#333" stroke-width="0.12">SPP1</text>
<line x1="22.5" y1="86.275" x2="25.8" y2="86.275" stroke="#333" stroke-width="0.9" />
<text x="20.8" y="91.925" font-size="4.3" text-anchor="end" fill="#333" font-weight="normal" stroke="#333" stroke-width="0.12">CD163</text>
<line x1="22.5" y1="90.425" x2="25.8" y2="90.425" stroke="#333" stroke-width="0.9" />
<text x="20.8" y="96.075" font-size="4.3" text-anchor="end" fill="#333" font-weight="normal" stroke="#333" stroke-width="0.12">PDL1</text>
<line x1="22.5" y1="94.575" x2="25.8" y2="94.575" stroke="#333" stroke-width="0.9" />
<text x="20.8" y="100.22500000000001" font-size="4.3" text-anchor="end" fill="#333" font-weight="normal" stroke="#333" stroke-width="0.12">MSR1</text>
<line x1="22.5" y1="98.72500000000001" x2="25.8" y2="98.72500000000001" stroke="#333" stroke-width="0.9" />
<line x1="28.200000000000003" y1="101" x2="28.200000000000003" y2="103.8" stroke="#333" stroke-width="0.9" />
<line x1="32.4" y1="101" x2="32.4" y2="103.8" stroke="#333" stroke-width="0.9" />
<line x1="36.6" y1="101" x2="36.6" y2="103.8" stroke="#333" stroke-width="0.9" />
<line x1="40.800000000000004" y1="101" x2="40.800000000000004" y2="103.8" stroke="#333" stroke-width="0.9" />
<line x1="45.00000000000001" y1="101" x2="45.00000000000001" y2="103.8" stroke="#333" stroke-width="0.9" />
<line x1="49.2" y1="101" x2="49.2" y2="103.8" stroke="#333" stroke-width="0.9" />
<line x1="53.400000000000006" y1="101" x2="53.400000000000006" y2="103.8" stroke="#333" stroke-width="0.9" />
<line x1="57.6" y1="101" x2="57.6" y2="103.8" stroke="#333" stroke-width="0.9" />
<line x1="61.800000000000004" y1="101" x2="61.800000000000004" y2="103.8" stroke="#333" stroke-width="0.9" />
<line x1="66.0" y1="101" x2="66.0" y2="103.8" stroke="#333" stroke-width="0.9" />
<line x1="70.19999999999999" y1="101" x2="70.19999999999999" y2="103.8" stroke="#333" stroke-width="0.9" />
<line x1="74.4" y1="101" x2="74.4" y2="103.8" stroke="#333" stroke-width="0.9" />
<line x1="78.6" y1="101" x2="78.6" y2="103.8" stroke="#333" stroke-width="0.9" />
<line x1="82.8" y1="101" x2="82.8" y2="103.8" stroke="#333" stroke-width="0.9" />
<line x1="87.0" y1="101" x2="87.0" y2="103.8" stroke="#333" stroke-width="0.9" />
<line x1="91.19999999999999" y1="101" x2="91.19999999999999" y2="103.8" stroke="#333" stroke-width="0.9" />
<line x1="95.4" y1="101" x2="95.4" y2="103.8" stroke="#333" stroke-width="0.9" />
<line x1="99.6" y1="101" x2="99.6" y2="103.8" stroke="#333" stroke-width="0.9" />
<line x1="103.80000000000001" y1="101" x2="103.80000000000001" y2="103.8" stroke="#333" stroke-width="0.9" />
<line x1="108.0" y1="101" x2="108.0" y2="103.8" stroke="#333" stroke-width="0.9" />
<line x1="112.19999999999999" y1="101" x2="112.19999999999999" y2="103.8" stroke="#333" stroke-width="0.9" />
<line x1="116.4" y1="101" x2="116.4" y2="103.8" stroke="#333" stroke-width="0.9" />
<line x1="120.6" y1="101" x2="120.6" y2="103.8" stroke="#333" stroke-width="0.9" />
<line x1="124.80000000000001" y1="101" x2="124.80000000000001" y2="103.8" stroke="#333" stroke-width="0.9" />
<line x1="129.0" y1="101" x2="129.0" y2="103.8" stroke="#333" stroke-width="0.9" />
<line x1="133.2" y1="101" x2="133.2" y2="103.8" stroke="#333" stroke-width="0.9" />
<line x1="137.4" y1="101" x2="137.4" y2="103.8" stroke="#333" stroke-width="0.9" />
<text x="26.70" y="106.8" font-size="4.2" fill="#444" transform="rotate(90 26.70 106.8)" text-anchor="start">01-1-01</text>
<text x="30.90" y="106.8" font-size="4.2" fill="#444" transform="rotate(90 30.90 106.8)" text-anchor="start">02-2-02</text>
<text x="35.10" y="106.8" font-size="4.2" fill="#444" transform="rotate(90 35.10 106.8)" text-anchor="start">03-3-03</text>
<text x="39.30" y="106.8" font-size="4.2" fill="#444" transform="rotate(90 39.30 106.8)" text-anchor="start">01-4-01</text>
<text x="43.50" y="106.8" font-size="4.2" fill="#444" transform="rotate(90 43.50 106.8)" text-anchor="start">02-5-02</text>
<text x="47.70" y="106.8" font-size="4.2" fill="#444" transform="rotate(90 47.70 106.8)" text-anchor="start">03-6-03</text>
<text x="51.90" y="106.8" font-size="4.2" fill="#444" transform="rotate(90 51.90 106.8)" text-anchor="start">01-7-01</text>
<text x="56.10" y="106.8" font-size="4.2" fill="#444" transform="rotate(90 56.10 106.8)" text-anchor="start">02-8-02</text>
<text x="60.30" y="106.8" font-size="4.2" fill="#444" transform="rotate(90 60.30 106.8)" text-anchor="start">03-18-03</text>
<text x="64.50" y="106.8" font-size="4.2" fill="#444" transform="rotate(90 64.50 106.8)" text-anchor="start">01-10-01</text>
<text x="68.70" y="106.8" font-size="4.2" fill="#444" transform="rotate(90 68.70 106.8)" text-anchor="start">02-11-02</text>
<text x="72.90" y="106.8" font-size="4.2" fill="#444" transform="rotate(90 72.90 106.8)" text-anchor="start">03-3-03</text>
<text x="77.10" y="106.8" font-size="4.2" fill="#444" transform="rotate(90 77.10 106.8)" text-anchor="start">01-4-01</text>
<text x="81.30" y="106.8" font-size="4.2" fill="#444" transform="rotate(90 81.30 106.8)" text-anchor="start">02-5-02</text>
<text x="85.50" y="106.8" font-size="4.2" fill="#444" transform="rotate(90 85.50 106.8)" text-anchor="start">03-6-03</text>
<text x="89.70" y="106.8" font-size="4.2" fill="#444" transform="rotate(90 89.70 106.8)" text-anchor="start">01-7-01</text>
<text x="93.90" y="106.8" font-size="4.2" fill="#444" transform="rotate(90 93.90 106.8)" text-anchor="start">02-8-02</text>
<text x="98.10" y="106.8" font-size="4.2" fill="#444" transform="rotate(90 98.10 106.8)" text-anchor="start">03-9-03</text>
<text x="102.30" y="106.8" font-size="4.2" fill="#444" transform="rotate(90 102.30 106.8)" text-anchor="start">01-1-01</text>
<text x="106.50" y="106.8" font-size="4.2" fill="#444" transform="rotate(90 106.50 106.8)" text-anchor="start">02-2-02</text>
<text x="110.70" y="106.8" font-size="4.2" fill="#444" transform="rotate(90 110.70 106.8)" text-anchor="start">03-3-03</text>
<text x="114.90" y="106.8" font-size="4.2" fill="#444" transform="rotate(90 114.90 106.8)" text-anchor="start">01-4-01</text>
<text x="119.10" y="106.8" font-size="4.2" fill="#444" transform="rotate(90 119.10 106.8)" text-anchor="start">02-5-02</text>
<text x="123.30" y="106.8" font-size="4.2" fill="#444" transform="rotate(90 123.30 106.8)" text-anchor="start">03-6-03</text>
<text x="127.50" y="106.8" font-size="4.2" fill="#444" transform="rotate(90 127.50 106.8)" text-anchor="start">01-7-01</text>
<text x="131.70" y="106.8" font-size="4.2" fill="#444" transform="rotate(90 131.70 106.8)" text-anchor="start">02-8-02</text>
<text x="135.90" y="106.8" font-size="4.2" fill="#444" transform="rotate(90 135.90 106.8)" text-anchor="start">03-9-03</text>
<rect x="88.4" y="105.2" width="3.9" height="20" fill="none" stroke="#222" stroke-width="0.7"/>
<rect x="105.4" y="105.2" width="3.9" height="20" fill="none" stroke="#222" stroke-width="0.7"/>
<rect x="110.6" y="105.4" width="12.2" height="19.6" fill="none" stroke="#e6d27a" stroke-width="0.7"/>
<rect x="126.3" y="105.4" width="12.8" height="19.4" fill="none" stroke="#a8d08c" stroke-width="0.7"/>
<defs><linearGradient id="cb" x1="0" y1="0" x2="0" y2="1"><stop offset="0" stop-color="#c0283a"/><stop offset="0.2" stop-color="#dd5f6a"/><stop offset="0.42" stop-color="#f6dada"/><stop offset="0.5" stop-color="#ffffff"/><stop offset="0.62" stop-color="#c8c8e6"/><stop offset="0.8" stop-color="#6a70b8"/><stop offset="1" stop-color="#2c3388"/></linearGradient></defs>
<rect x="145.2" y="34.2" width="6.9" height="65.8" fill="url(#cb)" stroke="#333" stroke-width="0.3"/>
<line x1="145.2" y1="37.5" x2="146.4" y2="37.5" stroke="#333" stroke-width="0.5" />
<line x1="150.9" y1="37.5" x2="152.1" y2="37.5" stroke="#333" stroke-width="0.5" />
<text x="154.5" y="39.6" font-size="6" text-anchor="start" fill="#333" font-weight="normal" >100</text>
<line x1="145.2" y1="49.35" x2="146.4" y2="49.35" stroke="#333" stroke-width="0.5" />
<line x1="150.9" y1="49.35" x2="152.1" y2="49.35" stroke="#333" stroke-width="0.5" />
<text x="154.5" y="51.45" font-size="6" text-anchor="start" fill="#333" font-weight="normal" >80</text>
<line x1="145.2" y1="61.2" x2="146.4" y2="61.2" stroke="#333" stroke-width="0.5" />
<line x1="150.9" y1="61.2" x2="152.1" y2="61.2" stroke="#333" stroke-width="0.5" />
<text x="154.5" y="63.300000000000004" font-size="6" text-anchor="start" fill="#333" font-weight="normal" >60</text>
<line x1="145.2" y1="73.05" x2="146.4" y2="73.05" stroke="#333" stroke-width="0.5" />
<line x1="150.9" y1="73.05" x2="152.1" y2="73.05" stroke="#333" stroke-width="0.5" />
<text x="154.5" y="75.14999999999999" font-size="6" text-anchor="start" fill="#333" font-weight="normal" >40</text>
<line x1="145.2" y1="84.9" x2="146.4" y2="84.9" stroke="#333" stroke-width="0.5" />
<line x1="150.9" y1="84.9" x2="152.1" y2="84.9" stroke="#333" stroke-width="0.5" />
<text x="154.5" y="87.0" font-size="6" text-anchor="start" fill="#333" font-weight="normal" >20</text>
<line x1="145.2" y1="96.75" x2="146.4" y2="96.75" stroke="#333" stroke-width="0.5" />
<line x1="150.9" y1="96.75" x2="152.1" y2="96.75" stroke="#333" stroke-width="0.5" />
<text x="154.5" y="98.85" font-size="6" text-anchor="start" fill="#333" font-weight="normal" >0</text>
<text x="173.8" y="15.92" font-size="10.6" text-anchor="start" fill="#111" font-weight="bold" >B</text>
<text x="263.4" y="15.92" font-size="10.6" text-anchor="start" fill="#111" font-weight="bold" >C</text>
<text x="344.3" y="15.82" font-size="10.6" text-anchor="start" fill="#111" font-weight="bold" >D</text>
<text x="431.4" y="15.82" font-size="10.6" text-anchor="start" fill="#111" font-weight="bold" >E</text>
<text x="225.4" y="33.11" font-size="7.85" text-anchor="middle" fill="#1a1a1a" font-weight="normal" >T Cell Activation</text>
<line x1="199.5" y1="40.599999999999994" x2="199.5" y2="112.3" stroke="#1a1a1a" stroke-width="1.0" />
<line x1="196.9" y1="112.3" x2="199.5" y2="112.3" stroke="#1a1a1a" stroke-width="0.9" />
<text x="194.6" y="114.64" font-size="6.6" text-anchor="end" fill="#505050" font-weight="normal" >0</text>
<line x1="196.9" y1="98.2" x2="199.5" y2="98.2" stroke="#1a1a1a" stroke-width="0.9" />
<text x="194.6" y="100.54" font-size="6.6" text-anchor="end" fill="#505050" font-weight="normal" >2</text>
<line x1="196.9" y1="84.1" x2="199.5" y2="84.1" stroke="#1a1a1a" stroke-width="0.9" />
<text x="194.6" y="86.44" font-size="6.6" text-anchor="end" fill="#505050" font-weight="normal" >4</text>
<line x1="196.9" y1="70.0" x2="199.5" y2="70.0" stroke="#1a1a1a" stroke-width="0.9" />
<text x="194.6" y="72.34" font-size="6.6" text-anchor="end" fill="#505050" font-weight="normal" >6</text>
<line x1="196.9" y1="55.9" x2="199.5" y2="55.9" stroke="#1a1a1a" stroke-width="0.9" />
<text x="194.6" y="58.24" font-size="6.6" text-anchor="end" fill="#505050" font-weight="normal" >8</text>
<line x1="196.9" y1="41.8" x2="199.5" y2="41.8" stroke="#1a1a1a" stroke-width="0.9" />
<text x="194.6" y="44.14" font-size="6.6" text-anchor="end" fill="#505050" font-weight="normal" >10</text>
<line x1="199.0" y1="112.3" x2="242.2" y2="112.3" stroke="#1a1a1a" stroke-width="1.0" />
<line x1="212.6" y1="112.3" x2="212.6" y2="114.7" stroke="#1a1a1a" stroke-width="0.9" />
<line x1="232.9" y1="112.3" x2="232.9" y2="114.7" stroke="#1a1a1a" stroke-width="0.9" />
<text x="0" y="0" font-size="6.3" fill="#1a1a1a" stroke="#1a1a1a" stroke-width="0.12" text-anchor="middle" transform="translate(180.88 73.2) rotate(-90) scale(0.82 1)">T cell activation score</text>
<text x="0" y="0" font-size="6.2" fill="#222" text-anchor="end" transform="translate(218.4 121.7) rotate(-45)">CMR/PMR</text>
<text x="0" y="0" font-size="6.2" fill="#222" text-anchor="end" transform="translate(238.70000000000002 121.7) rotate(-45)">PD</text>
<path d="M212.3,48.7 V44.1 H233.0 V48.7" fill="none" stroke="#222" stroke-width="0.8"/>
<text x="222.65" y="44.0" font-size="5.6" text-anchor="middle" fill="#222" font-weight="normal" >**</text>
<path d="M212.50,53.30 L214.10,55.00 L216.50,56.20 L216.70,58.30 L215.90,59.30 L216.70,60.30 L217.10,62.60 L218.50,64.20 L216.50,65.40 L214.10,67.00 L212.50,68.30 L212.50,68.30 L210.90,67.00 L208.50,65.40 L206.50,64.20 L207.90,62.60 L208.30,60.30 L209.10,59.30 L208.30,58.30 L208.50,56.20 L210.90,55.00 L212.50,53.30Z" fill="#aedf99" stroke="#5a9e3e" stroke-width="0.7" stroke-linejoin="round"/>
<line x1="208.46" y1="58.5" x2="216.54" y2="58.5" stroke="#5a9e3e" stroke-width="0.5"/>
<line x1="208.16" y1="61.1" x2="216.84" y2="61.1" stroke="#2f6a22" stroke-width="0.8" stroke-dasharray="1.1,0.7"/>
<line x1="206.85" y1="63.8" x2="218.15" y2="63.8" stroke="#5a9e3e" stroke-width="0.5"/>
<path d="M233.40,52.00 L233.70,55.80 L234.70,57.00 L236.10,59.00 L237.10,62.90 L236.90,66.00 L236.30,68.50 L237.40,71.00 L238.70,73.50 L239.30,75.70 L238.50,78.00 L236.70,80.00 L234.90,81.50 L233.80,83.00 L233.50,85.30 L232.30,85.30 L232.00,83.00 L230.90,81.50 L229.10,80.00 L227.30,78.00 L226.50,75.70 L227.10,73.50 L228.40,71.00 L229.50,68.50 L228.90,66.00 L228.70,62.90 L229.70,59.00 L231.10,57.00 L232.10,55.80 L232.40,52.00Z" fill="#ee8e8c" stroke="#c84444" stroke-width="0.7" stroke-linejoin="round"/>
<line x1="228.85" y1="65.2" x2="236.95" y2="65.2" stroke="#c84444" stroke-width="0.5"/>
<line x1="228.49" y1="70.8" x2="237.31" y2="70.8" stroke="#8a2020" stroke-width="0.8" stroke-dasharray="1.1,0.7"/>
<line x1="226.50" y1="75.7" x2="239.30" y2="75.7" stroke="#c84444" stroke-width="0.5"/>
<text x="310.9" y="33.11" font-size="7.85" text-anchor="middle" fill="#1a1a1a" font-weight="normal" >Immune ratio</text>
<line x1="286.3" y1="39.7" x2="286.3" y2="112.3" stroke="#1a1a1a" stroke-width="1.0" />
<line x1="283.7" y1="112.3" x2="286.3" y2="112.3" stroke="#1a1a1a" stroke-width="0.9" />
<text x="281.0" y="114.64" font-size="6.6" text-anchor="end" fill="#505050" font-weight="normal" >0</text>
<line x1="283.7" y1="88.5" x2="286.3" y2="88.5" stroke="#1a1a1a" stroke-width="0.9" />
<text x="281.0" y="90.84" font-size="6.6" text-anchor="end" fill="#505050" font-weight="normal" >10</text>
<line x1="283.7" y1="64.7" x2="286.3" y2="64.7" stroke="#1a1a1a" stroke-width="0.9" />
<text x="281.0" y="67.04" font-size="6.6" text-anchor="end" fill="#505050" font-weight="normal" >20</text>
<line x1="283.7" y1="40.900000000000006" x2="286.3" y2="40.900000000000006" stroke="#1a1a1a" stroke-width="0.9" />
<text x="281.0" y="43.24" font-size="6.6" text-anchor="end" fill="#505050" font-weight="normal" >30</text>
<line x1="285.8" y1="112.3" x2="333.2" y2="112.3" stroke="#1a1a1a" stroke-width="1.0" />
<line x1="300.6" y1="112.3" x2="300.6" y2="114.7" stroke="#1a1a1a" stroke-width="0.9" />
<line x1="320.9" y1="112.3" x2="320.9" y2="114.7" stroke="#1a1a1a" stroke-width="0.9" />
<text x="0" y="0" font-size="6.3" fill="#1a1a1a" stroke="#1a1a1a" stroke-width="0.12" text-anchor="middle" transform="translate(267.68 78.7) rotate(-90) scale(0.78 1)">CD4*CD8A:M2*PDL1 ratio</text>
<text x="0" y="0" font-size="6.2" fill="#222" text-anchor="end" transform="translate(306.40000000000003 121.7) rotate(-45)">CMR/PMR</text>
<text x="0" y="0" font-size="6.2" fill="#222" text-anchor="end" transform="translate(326.7 121.7) rotate(-45)">PD</text>
<path d="M300.6,53.6 V47.1 H320.9 V53.6" fill="none" stroke="#222" stroke-width="0.8"/>
<text x="312.0" y="45.3" font-size="5.6" text-anchor="middle" fill="#222" font-weight="normal" >**</text>
<path d="M300.90,55.20 L301.20,57.50 L302.40,59.00 L304.00,60.50 L305.20,62.50 L305.90,65.00 L306.20,68.00 L305.90,72.00 L305.40,76.70 L305.90,80.00 L306.20,83.00 L305.40,86.00 L304.00,89.00 L302.60,92.00 L301.40,95.00 L300.90,99.30 L299.90,99.30 L299.40,95.00 L298.20,92.00 L296.80,89.00 L295.40,86.00 L294.60,83.00 L294.90,80.00 L295.40,76.70 L294.90,72.00 L294.60,68.00 L294.90,65.00 L295.60,62.50 L296.80,60.50 L298.40,59.00 L299.60,57.50 L299.90,55.20Z" fill="#aedf99" stroke="#5a9e3e" stroke-width="0.7" stroke-linejoin="round"/>
<line x1="294.75" y1="66.5" x2="306.05" y2="66.5" stroke="#5a9e3e" stroke-width="0.5"/>
<line x1="295.16" y1="74.4" x2="305.64" y2="74.4" stroke="#2f6a22" stroke-width="0.8" stroke-dasharray="1.1,0.7"/>
<line x1="294.78" y1="81.2" x2="306.02" y2="81.2" stroke="#5a9e3e" stroke-width="0.5"/>
<path d="M321.30,57.40 L321.50,66.00 L321.60,70.00 L322.60,71.50 L322.90,73.30 L322.40,75.00 L321.60,77.00 L322.30,80.00 L323.80,82.30 L325.60,85.00 L326.50,89.10 L325.00,92.00 L322.30,94.80 L323.00,96.50 L323.60,99.30 L322.60,101.50 L321.50,103.00 L321.20,105.00 L320.40,105.00 L320.10,103.00 L319.00,101.50 L318.00,99.30 L318.60,96.50 L319.30,94.80 L316.60,92.00 L315.10,89.10 L316.00,85.00 L317.80,82.30 L319.30,80.00 L320.00,77.00 L319.20,75.00 L318.70,73.30 L319.00,71.50 L320.00,70.00 L320.10,66.00 L320.30,57.40Z" fill="#ee8e8c" stroke="#c84444" stroke-width="0.7" stroke-linejoin="round"/>
<line x1="315.58" y1="86.9" x2="326.02" y2="86.9" stroke="#c84444" stroke-width="0.5"/>
<line x1="315.10" y1="89.1" x2="326.50" y2="89.1" stroke="#8a2020" stroke-width="0.8" stroke-dasharray="1.1,0.7"/>
<line x1="316.29" y1="91.4" x2="325.31" y2="91.4" stroke="#c84444" stroke-width="0.5"/>
<text x="392.5" y="33.11" font-size="7.85" text-anchor="middle" fill="#1a1a1a" font-weight="normal" >TCF7 Expression</text>
<line x1="368.3" y1="40.599999999999994" x2="368.3" y2="112.3" stroke="#1a1a1a" stroke-width="1.0" />
<line x1="365.7" y1="112.3" x2="368.3" y2="112.3" stroke="#1a1a1a" stroke-width="0.9" />
<text x="363.0" y="114.64" font-size="6.6" text-anchor="end" fill="#505050" font-weight="normal" >0</text>
<line x1="365.7" y1="88.8" x2="368.3" y2="88.8" stroke="#1a1a1a" stroke-width="0.9" />
<text x="363.0" y="91.14" font-size="6.6" text-anchor="end" fill="#505050" font-weight="normal" >5</text>
<line x1="365.7" y1="65.3" x2="368.3" y2="65.3" stroke="#1a1a1a" stroke-width="0.9" />
<text x="363.0" y="67.64" font-size="6.6" text-anchor="end" fill="#505050" font-weight="normal" >10</text>
<line x1="365.7" y1="41.8" x2="368.3" y2="41.8" stroke="#1a1a1a" stroke-width="0.9" />
<text x="363.0" y="44.14" font-size="6.6" text-anchor="end" fill="#505050" font-weight="normal" >15</text>
<line x1="367.8" y1="112.3" x2="411.0" y2="112.3" stroke="#1a1a1a" stroke-width="1.0" />
<line x1="381.9" y1="112.3" x2="381.9" y2="114.7" stroke="#1a1a1a" stroke-width="0.9" />
<line x1="402.7" y1="112.3" x2="402.7" y2="114.7" stroke="#1a1a1a" stroke-width="0.9" />
<text x="0" y="0" font-size="6.4" fill="#1a1a1a" stroke="#1a1a1a" stroke-width="0.12" text-anchor="middle" transform="translate(349.71 73.6) rotate(-90) scale(0.8 1)">Normalised counts (log2)</text>
<text x="0" y="0" font-size="6.2" fill="#222" text-anchor="end" transform="translate(387.7 121.7) rotate(-45)">CMR/PMR</text>
<text x="0" y="0" font-size="6.2" fill="#222" text-anchor="end" transform="translate(408.5 121.7) rotate(-45)">PD</text>
<path d="M382.6,54.0 V50.0 H402.8 V54.0" fill="none" stroke="#222" stroke-width="0.8"/>
<text x="389.1" y="44.2" font-size="5.6" text-anchor="middle" fill="#222" font-weight="normal" >*</text>
<path d="M382.70,59.10 L383.00,61.50 L383.80,63.00 L385.20,64.50 L386.60,66.00 L388.00,68.00 L388.70,70.30 L388.20,72.50 L386.80,74.50 L385.20,76.00 L384.20,77.40 L384.20,79.00 L384.70,81.40 L383.80,83.50 L383.00,86.00 L382.60,88.50 L381.80,88.50 L381.40,86.00 L380.60,83.50 L379.70,81.40 L380.20,79.00 L380.20,77.40 L379.20,76.00 L377.60,74.50 L376.20,72.50 L375.70,70.30 L376.40,68.00 L377.80,66.00 L379.20,64.50 L380.60,63.00 L381.40,61.50 L381.70,59.10Z" fill="#aedf99" stroke="#5a9e3e" stroke-width="0.7" stroke-linejoin="round"/>
<line x1="376.61" y1="67.7" x2="387.79" y2="67.7" stroke="#5a9e3e" stroke-width="0.5"/>
<line x1="375.70" y1="70.3" x2="388.70" y2="70.3" stroke="#2f6a22" stroke-width="0.8" stroke-dasharray="1.1,0.7"/>
<line x1="376.55" y1="73" x2="387.85" y2="73" stroke="#5a9e3e" stroke-width="0.5"/>
<path d="M402.90,58.10 L403.20,61.00 L404.00,63.20 L403.50,65.00 L404.30,67.20 L403.90,69.50 L405.10,72.00 L406.00,74.30 L407.50,77.00 L408.80,80.40 L407.70,83.00 L406.00,85.00 L405.00,86.50 L404.20,88.50 L404.50,90.60 L403.50,92.50 L403.20,95.00 L404.00,98.70 L403.30,101.00 L402.90,104.80 L402.10,104.80 L401.70,101.00 L401.00,98.70 L401.80,95.00 L401.50,92.50 L400.50,90.60 L400.80,88.50 L400.00,86.50 L399.00,85.00 L397.30,83.00 L396.20,80.40 L397.50,77.00 L399.00,74.30 L399.90,72.00 L401.10,69.50 L400.70,67.20 L401.50,65.00 L401.00,63.20 L401.80,61.00 L402.10,58.10Z" fill="#ee8e8c" stroke="#c84444" stroke-width="0.7" stroke-linejoin="round"/>
<line x1="397.31" y1="77.5" x2="407.69" y2="77.5" stroke="#c84444" stroke-width="0.5"/>
<line x1="396.20" y1="80.4" x2="408.80" y2="80.4" stroke="#8a2020" stroke-width="0.8" stroke-dasharray="1.1,0.7"/>
<line x1="397.73" y1="83.5" x2="407.27" y2="83.5" stroke="#c84444" stroke-width="0.5"/>
<text x="475.6" y="33.11" font-size="7.85" text-anchor="middle" fill="#1a1a1a" font-weight="normal" >TCF7 by timepoint</text>
<line x1="456.0" y1="53.7" x2="456.0" y2="112.5" stroke="#1a1a1a" stroke-width="1.0" />
<line x1="453.4" y1="112.5" x2="456.0" y2="112.5" stroke="#1a1a1a" stroke-width="0.9" />
<text x="451.2" y="114.63" font-size="6.0" text-anchor="end" fill="#505050" font-weight="normal" >0</text>
<line x1="453.4" y1="106.74" x2="456.0" y2="106.74" stroke="#1a1a1a" stroke-width="0.9" />
<line x1="453.4" y1="100.98" x2="456.0" y2="100.98" stroke="#1a1a1a" stroke-width="0.9" />
<line x1="453.4" y1="95.22" x2="456.0" y2="95.22" stroke="#1a1a1a" stroke-width="0.9" />
<line x1="453.4" y1="89.46000000000001" x2="456.0" y2="89.46000000000001" stroke="#1a1a1a" stroke-width="0.9" />
<line x1="453.4" y1="83.7" x2="456.0" y2="83.7" stroke="#1a1a1a" stroke-width="0.9" />
<text x="451.2" y="85.83" font-size="6.0" text-anchor="end" fill="#505050" font-weight="normal" >5</text>
<line x1="453.4" y1="77.94" x2="456.0" y2="77.94" stroke="#1a1a1a" stroke-width="0.9" />
<line x1="453.4" y1="72.18" x2="456.0" y2="72.18" stroke="#1a1a1a" stroke-width="0.9" />
<line x1="453.4" y1="66.42" x2="456.0" y2="66.42" stroke="#1a1a1a" stroke-width="0.9" />
<line x1="453.4" y1="60.660000000000004" x2="456.0" y2="60.660000000000004" stroke="#1a1a1a" stroke-width="0.9" />
<line x1="453.4" y1="54.900000000000006" x2="456.0" y2="54.900000000000006" stroke="#1a1a1a" stroke-width="0.9" />
<text x="451.2" y="57.03" font-size="6.0" text-anchor="end" fill="#505050" font-weight="normal" >10</text>
<line x1="455.5" y1="112.5" x2="494.7" y2="112.5" stroke="#1a1a1a" stroke-width="1.0" />
<line x1="463.8" y1="112.5" x2="463.8" y2="114.9" stroke="#1a1a1a" stroke-width="0.9" />
<line x1="475.2" y1="112.5" x2="475.2" y2="114.9" stroke="#1a1a1a" stroke-width="0.9" />
<line x1="487.0" y1="112.5" x2="487.0" y2="114.9" stroke="#1a1a1a" stroke-width="0.9" />
<text x="0" y="0" font-size="6.4" fill="#1a1a1a" stroke="#1a1a1a" stroke-width="0.12" text-anchor="middle" transform="translate(438.21 79.9) rotate(-90) scale(0.84 1)">Normalised counts (log2)</text>
<text x="0" y="0" font-size="6.2" fill="#222" text-anchor="end" transform="translate(466.2 122.3) rotate(-45)">Baseline</text>
<text x="0" y="0" font-size="6.2" fill="#222" text-anchor="end" transform="translate(477.79999999999995 122.3) rotate(-45)">C1D8</text>
<text x="0" y="0" font-size="6.2" fill="#222" text-anchor="end" transform="translate(489.2 122.3) rotate(-45)">Progression</text>
<path d="M463.8,67.7 L475.2,67 L487,66.1" fill="none" stroke="#999" stroke-width="0.45"/>
<path d="M463.8,70.8 L475.2,72.8 L487,71.2" fill="none" stroke="#999" stroke-width="0.45"/>
<path d="M463.8,71.3 L475.2,73.6 L487,73.9" fill="none" stroke="#999" stroke-width="0.45"/>
<path d="M463.8,76.9 L475.2,81" fill="none" stroke="#999" stroke-width="0.45"/>
<path d="M463.8,78.2 L475.2,76.9" fill="none" stroke="#999" stroke-width="0.45"/>
<path d="M463.8,81 L475.2,81.9 L487,84" fill="none" stroke="#999" stroke-width="0.45"/>
<path d="M463.8,79.5 L475.2,80.5 L487,83.2" fill="none" stroke="#999" stroke-width="0.45"/>
<path d="M463.8,83 L475.2,95.1" fill="none" stroke="#999" stroke-width="0.45"/>
<path d="M463.8,89 L475.2,85.7" fill="none" stroke="#999" stroke-width="0.45"/>
<path d="M463.8,83.5 L475.2,93.1" fill="none" stroke="#999" stroke-width="0.45"/>
<circle cx="463.8" cy="67.7" r="1.1" fill="#327a4c"/>
<circle cx="475.2" cy="67" r="1.1" fill="#327a4c"/>
<circle cx="487" cy="66.1" r="1.1" fill="#327a4c"/>
<circle cx="463.8" cy="70.8" r="1.1" fill="#b02828"/>
<circle cx="475.2" cy="72.8" r="1.1" fill="#b02828"/>
<circle cx="487" cy="71.2" r="1.1" fill="#b02828"/>
<circle cx="463.8" cy="71.3" r="1.1" fill="#b02828"/>
<circle cx="475.2" cy="73.6" r="1.1" fill="#b02828"/>
<circle cx="487" cy="73.9" r="1.1" fill="#b02828"/>
<circle cx="463.8" cy="76.9" r="1.1" fill="#1d4070"/>
<circle cx="475.2" cy="81" r="1.1" fill="#1d4070"/>
<circle cx="463.8" cy="78.2" r="1.1" fill="#1d4070"/>
<circle cx="475.2" cy="76.9" r="1.1" fill="#1d4070"/>
<circle cx="463.8" cy="81" r="1.1" fill="#1d4070"/>
<circle cx="475.2" cy="81.9" r="1.1" fill="#1d4070"/>
<circle cx="487" cy="84" r="1.1" fill="#1d4070"/>
<circle cx="463.8" cy="79.5" r="1.1" fill="#1d4070"/>
<circle cx="475.2" cy="80.5" r="1.1" fill="#1d4070"/>
<circle cx="487" cy="83.2" r="1.1" fill="#1d4070"/>
<circle cx="463.8" cy="83" r="1.1" fill="#1d4070"/>
<circle cx="475.2" cy="95.1" r="1.1" fill="#1d4070"/>
<circle cx="463.8" cy="89" r="1.1" fill="#1d4070"/>
<circle cx="475.2" cy="85.7" r="1.1" fill="#1d4070"/>
<circle cx="463.8" cy="83.5" r="1.1" fill="#1d4070"/>
<circle cx="475.2" cy="93.1" r="1.1" fill="#1d4070"/>
<circle cx="494.8" cy="58" r="1.35" fill="#3aa04a"/>
<text x="498.5" y="60.2" font-size="6.2" text-anchor="start" fill="#222" font-weight="normal" >CMR</text>
<circle cx="494.8" cy="64.8" r="1.35" fill="#c83030"/>
<text x="498.5" y="67.0" font-size="6.2" text-anchor="start" fill="#222" font-weight="normal" >PMR</text>
<circle cx="494.8" cy="71.6" r="1.35" fill="#2a5a9a"/>
<text x="498.5" y="73.8" font-size="6.2" text-anchor="start" fill="#222" font-weight="normal" >PD</text>
<text x="38.8" y="162.42" font-size="10.6" text-anchor="start" fill="#111" font-weight="bold" >F</text>
<text x="191.6" y="162.32" font-size="10.6" text-anchor="start" fill="#111" font-weight="bold" >G</text>
<text x="344.2" y="162.82" font-size="10.6" text-anchor="start" fill="#111" font-weight="bold" >H</text>
<text x="121.3" y="175.96" font-size="8.0" text-anchor="middle" fill="#1a1a1a" font-weight="normal" >CD4 T Cells</text>
<text x="98.2" y="185.69" font-size="6.4" text-anchor="middle" fill="#333" font-weight="normal" textLength="21.6" lengthAdjust="spacingAndGlyphs">Baseline</text>
<text x="154.7" y="185.69" font-size="6.4" text-anchor="middle" fill="#333" font-weight="normal" textLength="14.6" lengthAdjust="spacingAndGlyphs">C1D8</text>
<line x1="70.3" y1="192.61" x2="70.3" y2="262.37" stroke="#1a1a1a" stroke-width="1.0" />
<line x1="67.7" y1="262.37" x2="70.3" y2="262.37" stroke="#1a1a1a" stroke-width="0.9" />
<text x="65.2" y="264.68" font-size="6.5" text-anchor="end" fill="#505050" font-weight="normal" >-20</text>
<line x1="67.7" y1="253.8" x2="70.3" y2="253.8" stroke="#1a1a1a" stroke-width="0.9" />
<text x="65.2" y="256.11" font-size="6.5" text-anchor="end" fill="#505050" font-weight="normal" >0</text>
<line x1="67.7" y1="245.23000000000002" x2="70.3" y2="245.23000000000002" stroke="#1a1a1a" stroke-width="0.9" />
<text x="65.2" y="247.54" font-size="6.5" text-anchor="end" fill="#505050" font-weight="normal" >20</text>
<line x1="67.7" y1="236.66000000000003" x2="70.3" y2="236.66000000000003" stroke="#1a1a1a" stroke-width="0.9" />
<text x="65.2" y="238.97" font-size="6.5" text-anchor="end" fill="#505050" font-weight="normal" >40</text>
<line x1="67.7" y1="228.09" x2="70.3" y2="228.09" stroke="#1a1a1a" stroke-width="0.9" />
<text x="65.2" y="230.4" font-size="6.5" text-anchor="end" fill="#505050" font-weight="normal" >60</text>
<line x1="67.7" y1="219.52" x2="70.3" y2="219.52" stroke="#1a1a1a" stroke-width="0.9" />
<text x="65.2" y="221.83" font-size="6.5" text-anchor="end" fill="#505050" font-weight="normal" >80</text>
<line x1="67.7" y1="210.95000000000002" x2="70.3" y2="210.95000000000002" stroke="#1a1a1a" stroke-width="0.9" />
<text x="65.2" y="213.26" font-size="6.5" text-anchor="end" fill="#505050" font-weight="normal" >100</text>
<line x1="67.7" y1="202.38" x2="70.3" y2="202.38" stroke="#1a1a1a" stroke-width="0.9" />
<text x="65.2" y="204.69" font-size="6.5" text-anchor="end" fill="#505050" font-weight="normal" >120</text>
<line x1="67.7" y1="193.81" x2="70.3" y2="193.81" stroke="#1a1a1a" stroke-width="0.9" />
<text x="65.2" y="196.12" font-size="6.5" text-anchor="end" fill="#505050" font-weight="normal" >140</text>
<line x1="69.8" y1="262.3" x2="174.5" y2="262.3" stroke="#1a1a1a" stroke-width="1.0" />
<line x1="76.8" y1="262.3" x2="76.8" y2="264.7" stroke="#1a1a1a" stroke-width="0.9" />
<line x1="92.1" y1="262.3" x2="92.1" y2="264.7" stroke="#1a1a1a" stroke-width="0.9" />
<line x1="107.3" y1="262.3" x2="107.3" y2="264.7" stroke="#1a1a1a" stroke-width="0.9" />
<line x1="122.8" y1="262.3" x2="122.8" y2="264.7" stroke="#1a1a1a" stroke-width="0.9" />
<line x1="138.4" y1="262.3" x2="138.4" y2="264.7" stroke="#1a1a1a" stroke-width="0.9" />
<line x1="153.9" y1="262.3" x2="153.9" y2="264.7" stroke="#1a1a1a" stroke-width="0.9" />
<line x1="169.4" y1="262.3" x2="169.4" y2="264.7" stroke="#1a1a1a" stroke-width="0.9" />
<text x="0" y="0" font-size="6.6" fill="#1a1a1a" stroke="#1a1a1a" stroke-width="0.12" text-anchor="middle" transform="translate(49.08 226.6) rotate(-90) scale(0.865 1)">% positive of CD4<tspan font-size="4" dy="-2.4">+ve</tspan></text>
<text x="0" y="0" font-size="6.4" fill="#222" text-anchor="end" transform="translate(80.8 275.6) rotate(-45)">TIGIT+</text>
<text x="0" y="0" font-size="6.4" fill="#222" text-anchor="end" transform="translate(96.1 275.6) rotate(-45)">PD-1+</text>
<text x="0" y="0" font-size="6.4" fill="#222" text-anchor="end" transform="translate(111.3 275.6) rotate(-45)">TCF1+</text>
<text x="0" y="0" font-size="6.4" fill="#222" text-anchor="end" transform="translate(142.4 275.6) rotate(-45)">TIGIT+</text>
<text x="0" y="0" font-size="6.4" fill="#222" text-anchor="end" transform="translate(157.9 275.6) rotate(-45)">PD-1+</text>
<text x="0" y="0" font-size="6.4" fill="#222" text-anchor="end" transform="translate(173.4 275.6) rotate(-45)">TCF1+</text>
<rect x="160.8" y="192.3" width="5.2" height="5.2" fill="#4fbf3a"/>
<rect x="160.8" y="202.3" width="5.2" height="5.2" fill="#1f4f8f"/>
<text x="169.0" y="197.17" font-size="6.4" text-anchor="start" fill="#222" font-weight="normal" textLength="13.6" lengthAdjust="spacingAndGlyphs">CMR</text>
<text x="169.0" y="207.17" font-size="6.4" text-anchor="start" fill="#222" font-weight="normal" textLength="8.9" lengthAdjust="spacingAndGlyphs">PD</text>
<path d="M74.35,231.00 L75.12,233.00 L75.63,235.50 L75.46,238.00 L75.12,240.50 L74.35,243.10 L73.84,243.10 L73.08,240.50 L72.74,238.00 L72.57,235.50 L73.08,233.00 L73.84,231.00Z" fill="#b4e09c" stroke="#62b444" stroke-width="0.5" stroke-linejoin="round"/>
<line x1="72.64" y1="236.5" x2="75.56" y2="236.5" stroke="#3d7a2a" stroke-width="0.5" stroke-dasharray="1,0.6"/>
<path d="M80.14,226.30 L81.16,228.50 L81.50,230.50 L81.16,233.00 L80.82,237.00 L80.56,242.00 L80.31,246.00 L80.05,249.20 L79.55,249.20 L79.29,246.00 L79.03,242.00 L78.78,237.00 L78.44,233.00 L78.10,230.50 L78.44,228.50 L79.46,226.30Z" fill="#6f8dc2" stroke="#2f4f8a" stroke-width="0.5" stroke-linejoin="round"/>
<line x1="78.10" y1="230.5" x2="81.50" y2="230.5" stroke="#1c3565" stroke-width="0.5" stroke-dasharray="1,0.6"/>
<path d="M89.35,231.50 L90.03,233.50 L90.46,236.00 L90.03,238.50 L89.35,240.60 L88.84,240.60 L88.16,238.50 L87.74,236.00 L88.16,233.50 L88.84,231.50Z" fill="#b4e09c" stroke="#62b444" stroke-width="0.5" stroke-linejoin="round"/>
<line x1="87.74" y1="236" x2="90.46" y2="236" stroke="#3d7a2a" stroke-width="0.5" stroke-dasharray="1,0.6"/>
<path d="M94.75,204.00 L95.27,210.00 L95.69,218.00 L95.94,226.00 L96.28,233.00 L96.37,237.00 L95.86,242.00 L95.35,247.00 L94.75,252.80 L94.25,252.80 L93.65,247.00 L93.14,242.00 L92.63,237.00 L92.72,233.00 L93.06,226.00 L93.31,218.00 L93.73,210.00 L94.25,204.00Z" fill="#6f8dc2" stroke="#2f4f8a" stroke-width="0.5" stroke-linejoin="round"/>
<line x1="92.76" y1="232" x2="96.24" y2="232" stroke="#1c3565" stroke-width="0.5" stroke-dasharray="1,0.6"/>
<line x1="92.65" y1="236" x2="96.35" y2="236" stroke="#1c3565" stroke-width="0.5" stroke-dasharray="1,0.6"/>
<path d="M104.16,220.40 L104.92,224.00 L105.60,228.00 L105.69,232.00 L105.34,236.00 L105.01,240.00 L104.92,244.00 L104.58,248.00 L104.16,254.90 L103.65,254.90 L103.22,248.00 L102.88,244.00 L102.80,240.00 L102.46,236.00 L102.12,232.00 L102.20,228.00 L102.88,224.00 L103.65,220.40Z" fill="#b4e09c" stroke="#62b444" stroke-width="0.5" stroke-linejoin="round"/>
<line x1="102.18" y1="229" x2="105.62" y2="229" stroke="#3d7a2a" stroke-width="0.5" stroke-dasharray="1,0.6"/>
<line x1="102.20" y1="233" x2="105.60" y2="233" stroke="#3d7a2a" stroke-width="0.5" stroke-dasharray="1,0.6"/>
<path d="M110.05,231.40 L110.48,236.00 L110.73,241.00 L111.16,245.00 L111.50,249.00 L110.99,252.00 L110.05,254.90 L109.55,254.90 L108.61,252.00 L108.10,249.00 L108.44,245.00 L108.86,241.00 L109.12,236.00 L109.55,231.40Z" fill="#6f8dc2" stroke="#2f4f8a" stroke-width="0.5" stroke-linejoin="round"/>
<line x1="108.10" y1="249" x2="111.50" y2="249" stroke="#1c3565" stroke-width="0.5" stroke-dasharray="1,0.6"/>
<path d="M104.4,218.6 V215.2 H110.8 V218.6" fill="none" stroke="#222" stroke-width="0.75"/>
<text x="107.7" y="214.9" font-size="5.4" text-anchor="middle" fill="#222" font-weight="normal" >*</text>
<path d="M134.35,226.40 L134.86,230.00 L135.20,234.00 L135.46,237.50 L135.12,241.00 L134.35,244.60 L133.84,244.60 L133.08,241.00 L132.74,237.50 L133.00,234.00 L133.34,230.00 L133.84,226.40Z" fill="#b4e09c" stroke="#62b444" stroke-width="0.5" stroke-linejoin="round"/>
<line x1="132.74" y1="237.5" x2="135.46" y2="237.5" stroke="#3d7a2a" stroke-width="0.5" stroke-dasharray="1,0.6"/>
<path d="M140.45,216.20 L141.13,221.00 L141.64,226.00 L141.81,229.40 L141.47,234.00 L141.13,240.00 L140.88,246.00 L140.45,251.70 L139.94,251.70 L139.52,246.00 L139.26,240.00 L138.92,234.00 L138.58,229.40 L138.75,226.00 L139.26,221.00 L139.94,216.20Z" fill="#6f8dc2" stroke="#2f4f8a" stroke-width="0.5" stroke-linejoin="round"/>
<line x1="138.73" y1="226.5" x2="141.67" y2="226.5" stroke="#1c3565" stroke-width="0.5" stroke-dasharray="1,0.6"/>
<line x1="138.59" y1="229.5" x2="141.81" y2="229.5" stroke="#1c3565" stroke-width="0.5" stroke-dasharray="1,0.6"/>
<path d="M149.56,223.30 L150.32,227.00 L150.83,231.00 L150.92,234.00 L150.66,238.00 L150.15,243.00 L149.56,247.70 L149.05,247.70 L148.45,243.00 L147.94,238.00 L147.69,234.00 L147.77,231.00 L148.28,227.00 L149.05,223.30Z" fill="#b4e09c" stroke="#62b444" stroke-width="0.5" stroke-linejoin="round"/>
<line x1="147.90" y1="230" x2="150.70" y2="230" stroke="#3d7a2a" stroke-width="0.5" stroke-dasharray="1,0.6"/>
<line x1="147.69" y1="234" x2="150.92" y2="234" stroke="#3d7a2a" stroke-width="0.5" stroke-dasharray="1,0.6"/>
<path d="M155.25,209.10 L155.85,214.00 L156.44,220.00 L156.87,226.40 L156.53,232.00 L156.10,238.00 L155.68,244.00 L155.25,248.70 L154.75,248.70 L154.32,244.00 L153.90,238.00 L153.47,232.00 L153.13,226.40 L153.56,220.00 L154.15,214.00 L154.75,209.10Z" fill="#6f8dc2" stroke="#2f4f8a" stroke-width="0.5" stroke-linejoin="round"/>
<line x1="153.36" y1="223" x2="156.64" y2="223" stroke="#1c3565" stroke-width="0.5" stroke-dasharray="1,0.6"/>
<line x1="153.14" y1="226.5" x2="156.86" y2="226.5" stroke="#1c3565" stroke-width="0.5" stroke-dasharray="1,0.6"/>
<path d="M164.75,236.50 L165.60,238.50 L165.94,241.00 L165.60,243.50 L164.75,246.00 L164.25,246.00 L163.40,243.50 L163.06,241.00 L163.40,238.50 L164.25,236.50Z" fill="#b4e09c" stroke="#62b444" stroke-width="0.5" stroke-linejoin="round"/>
<line x1="163.19" y1="240" x2="165.81" y2="240" stroke="#3d7a2a" stroke-width="0.5" stroke-dasharray="1,0.6"/>
<line x1="163.26" y1="242.5" x2="165.74" y2="242.5" stroke="#3d7a2a" stroke-width="0.5" stroke-dasharray="1,0.6"/>
<path d="M170.45,239.60 L170.96,243.00 L171.39,247.00 L171.73,250.70 L171.22,253.00 L170.45,254.80 L169.94,254.80 L169.18,253.00 L168.67,250.70 L169.01,247.00 L169.44,243.00 L169.94,239.60Z" fill="#6f8dc2" stroke="#2f4f8a" stroke-width="0.5" stroke-linejoin="round"/>
<line x1="168.69" y1="250.5" x2="171.71" y2="250.5" stroke="#1c3565" stroke-width="0.5" stroke-dasharray="1,0.6"/>
<path d="M164.3,230.5 V227.4 H171.5 V230.5" fill="none" stroke="#222" stroke-width="0.75"/>
<text x="167.3" y="226.9" font-size="5.4" text-anchor="middle" fill="#222" font-weight="normal" >*</text>
<text x="272.3" y="175.16" font-size="8.0" text-anchor="middle" fill="#1a1a1a" font-weight="normal" >CD8 T Cells</text>
<text x="252.9" y="185.49" font-size="6.4" text-anchor="middle" fill="#333" font-weight="normal" textLength="21.6" lengthAdjust="spacingAndGlyphs">Baseline</text>
<text x="303.9" y="185.49" font-size="6.4" text-anchor="middle" fill="#333" font-weight="normal" textLength="14.6" lengthAdjust="spacingAndGlyphs">C1D8</text>
<line x1="221.2" y1="191.50000000000003" x2="221.2" y2="261.65000000000003" stroke="#1a1a1a" stroke-width="1.0" />
<line x1="218.6" y1="261.65000000000003" x2="221.2" y2="261.65000000000003" stroke="#1a1a1a" stroke-width="0.9" />
<text x="216.8" y="263.96" font-size="6.5" text-anchor="end" fill="#505050" font-weight="normal" >-20</text>
<line x1="218.6" y1="251.8" x2="221.2" y2="251.8" stroke="#1a1a1a" stroke-width="0.9" />
<text x="216.8" y="254.11" font-size="6.5" text-anchor="end" fill="#505050" font-weight="normal" >0</text>
<line x1="218.6" y1="241.95000000000002" x2="221.2" y2="241.95000000000002" stroke="#1a1a1a" stroke-width="0.9" />
<text x="216.8" y="244.26" font-size="6.5" text-anchor="end" fill="#505050" font-weight="normal" >20</text>
<line x1="218.6" y1="232.10000000000002" x2="221.2" y2="232.10000000000002" stroke="#1a1a1a" stroke-width="0.9" />
<text x="216.8" y="234.41" font-size="6.5" text-anchor="end" fill="#505050" font-weight="normal" >40</text>
<line x1="218.6" y1="222.25" x2="221.2" y2="222.25" stroke="#1a1a1a" stroke-width="0.9" />
<text x="216.8" y="224.56" font-size="6.5" text-anchor="end" fill="#505050" font-weight="normal" >60</text>
<line x1="218.6" y1="212.4" x2="221.2" y2="212.4" stroke="#1a1a1a" stroke-width="0.9" />
<text x="216.8" y="214.71" font-size="6.5" text-anchor="end" fill="#505050" font-weight="normal" >80</text>
<line x1="218.6" y1="202.55" x2="221.2" y2="202.55" stroke="#1a1a1a" stroke-width="0.9" />
<text x="216.8" y="204.86" font-size="6.5" text-anchor="end" fill="#505050" font-weight="normal" >100</text>
<line x1="218.6" y1="192.70000000000002" x2="221.2" y2="192.70000000000002" stroke="#1a1a1a" stroke-width="0.9" />
<text x="216.8" y="195.01" font-size="6.5" text-anchor="end" fill="#505050" font-weight="normal" >120</text>
<line x1="220.7" y1="262.2" x2="327.0" y2="262.2" stroke="#1a1a1a" stroke-width="1.0" />
<line x1="229.4" y1="262.2" x2="229.4" y2="264.59999999999997" stroke="#1a1a1a" stroke-width="0.9" />
<line x1="244.6" y1="262.2" x2="244.6" y2="264.59999999999997" stroke="#1a1a1a" stroke-width="0.9" />
<line x1="259.8" y1="262.2" x2="259.8" y2="264.59999999999997" stroke="#1a1a1a" stroke-width="0.9" />
<line x1="275.1" y1="262.2" x2="275.1" y2="264.59999999999997" stroke="#1a1a1a" stroke-width="0.9" />
<line x1="290.5" y1="262.2" x2="290.5" y2="264.59999999999997" stroke="#1a1a1a" stroke-width="0.9" />
<line x1="305.8" y1="262.2" x2="305.8" y2="264.59999999999997" stroke="#1a1a1a" stroke-width="0.9" />
<line x1="321.0" y1="262.2" x2="321.0" y2="264.59999999999997" stroke="#1a1a1a" stroke-width="0.9" />
<text x="0" y="0" font-size="6.6" fill="#1a1a1a" stroke="#1a1a1a" stroke-width="0.12" text-anchor="middle" transform="translate(201.78 224.9) rotate(-90) scale(0.865 1)">% positive of CD8<tspan font-size="4" dy="-2.4">+ve</tspan></text>
<text x="0" y="0" font-size="6.4" fill="#222" text-anchor="end" transform="translate(233.4 275.6) rotate(-45)">TIGIT+</text>
<text x="0" y="0" font-size="6.4" fill="#222" text-anchor="end" transform="translate(248.6 275.6) rotate(-45)">PD-1+</text>
<text x="0" y="0" font-size="6.4" fill="#222" text-anchor="end" transform="translate(263.8 275.6) rotate(-45)">TCF1+</text>
<text x="0" y="0" font-size="6.4" fill="#222" text-anchor="end" transform="translate(294.5 275.6) rotate(-45)">TIGIT+</text>
<text x="0" y="0" font-size="6.4" fill="#222" text-anchor="end" transform="translate(309.8 275.6) rotate(-45)">PD-1+</text>
<text x="0" y="0" font-size="6.4" fill="#222" text-anchor="end" transform="translate(325.0 275.6) rotate(-45)">TCF1+</text>
<rect x="313.2" y="191.8" width="5.2" height="5.2" fill="#4fbf3a"/>
<rect x="313.2" y="201.8" width="5.2" height="5.2" fill="#1f4f8f"/>
<text x="321.4" y="196.67" font-size="6.4" text-anchor="start" fill="#222" font-weight="normal" textLength="13.6" lengthAdjust="spacingAndGlyphs">CMR</text>
<text x="321.4" y="206.67" font-size="6.4" text-anchor="start" fill="#222" font-weight="normal" textLength="8.9" lengthAdjust="spacingAndGlyphs">PD</text>
<path d="M226.75,216.90 L227.44,219.00 L227.78,221.00 L227.44,223.00 L226.75,224.80 L226.25,224.80 L225.56,223.00 L225.22,221.00 L225.56,219.00 L226.25,216.90Z" fill="#b4e09c" stroke="#62b444" stroke-width="0.5" stroke-linejoin="round"/>
<line x1="225.22" y1="221" x2="227.78" y2="221" stroke="#3d7a2a" stroke-width="0.5" stroke-dasharray="1,0.6"/>
<path d="M232.56,199.40 L233.15,205.00 L233.75,211.00 L234.17,218.00 L233.83,224.00 L233.41,231.00 L233.06,240.00 L232.56,248.70 L232.05,248.70 L231.54,240.00 L231.20,231.00 L230.77,224.00 L230.43,218.00 L230.86,211.00 L231.45,205.00 L232.05,199.40Z" fill="#6f8dc2" stroke="#2f4f8a" stroke-width="0.5" stroke-linejoin="round"/>
<line x1="230.61" y1="215" x2="233.99" y2="215" stroke="#1c3565" stroke-width="0.5" stroke-dasharray="1,0.6"/>
<line x1="230.46" y1="218.5" x2="234.14" y2="218.5" stroke="#1c3565" stroke-width="0.5" stroke-dasharray="1,0.6"/>
<path d="M242.06,222.40 L242.65,227.00 L243.16,232.00 L243.50,238.90 L243.08,244.00 L242.56,248.00 L242.06,250.90 L241.55,250.90 L241.04,248.00 L240.53,244.00 L240.10,238.90 L240.44,232.00 L240.95,227.00 L241.55,222.40Z" fill="#b4e09c" stroke="#62b444" stroke-width="0.5" stroke-linejoin="round"/>
<line x1="240.39" y1="233" x2="243.21" y2="233" stroke="#3d7a2a" stroke-width="0.5" stroke-dasharray="1,0.6"/>
<line x1="240.11" y1="239" x2="243.49" y2="239" stroke="#3d7a2a" stroke-width="0.5" stroke-dasharray="1,0.6"/>
<line x1="240.44" y1="243" x2="243.16" y2="243" stroke="#3d7a2a" stroke-width="0.5" stroke-dasharray="1,0.6"/>
<path d="M248.16,206.00 L248.66,212.00 L249.18,220.00 L249.60,228.00 L249.69,232.30 L249.34,238.00 L248.84,246.00 L248.41,252.00 L248.16,256.40 L247.65,256.40 L247.39,252.00 L246.97,246.00 L246.46,238.00 L246.12,232.30 L246.20,228.00 L246.62,220.00 L247.14,212.00 L247.65,206.00Z" fill="#6f8dc2" stroke="#2f4f8a" stroke-width="0.5" stroke-linejoin="round"/>
<line x1="246.18" y1="229" x2="249.62" y2="229" stroke="#1c3565" stroke-width="0.5" stroke-dasharray="1,0.6"/>
<line x1="246.13" y1="232.5" x2="249.67" y2="232.5" stroke="#1c3565" stroke-width="0.5" stroke-dasharray="1,0.6"/>
<path d="M257.45,237.80 L258.13,241.00 L258.64,244.00 L258.81,246.50 L258.31,250.00 L257.80,252.50 L257.45,254.20 L256.94,254.20 L256.60,252.50 L256.09,250.00 L255.58,246.50 L255.75,244.00 L256.26,241.00 L256.94,237.80Z" fill="#b4e09c" stroke="#62b444" stroke-width="0.5" stroke-linejoin="round"/>
<line x1="255.72" y1="244.5" x2="258.68" y2="244.5" stroke="#3d7a2a" stroke-width="0.5" stroke-dasharray="1,0.6"/>
<line x1="255.80" y1="248" x2="258.60" y2="248" stroke="#3d7a2a" stroke-width="0.5" stroke-dasharray="1,0.6"/>
<path d="M262.95,249.00 L263.55,250.00 L263.63,250.80 L262.95,252.00 L262.44,252.00 L261.76,250.80 L261.85,250.00 L262.44,249.00Z" fill="#6f8dc2" stroke="#2f4f8a" stroke-width="0.5" stroke-linejoin="round"/>
<path d="M257.3,234.3 V230.6 H264.3 V234.3" fill="none" stroke="#222" stroke-width="0.75"/>
<text x="260.9" y="230.5" font-size="5.4" text-anchor="middle" fill="#222" font-weight="normal" >*</text>
<path d="M287.25,218.00 L287.85,220.00 L288.19,221.80 L287.85,224.00 L287.25,226.30 L286.75,226.30 L286.15,224.00 L285.81,221.80 L286.15,220.00 L286.75,218.00Z" fill="#b4e09c" stroke="#62b444" stroke-width="0.5" stroke-linejoin="round"/>
<line x1="285.81" y1="221.8" x2="288.19" y2="221.8" stroke="#3d7a2a" stroke-width="0.5" stroke-dasharray="1,0.6"/>
<path d="M293.36,200.30 L293.95,206.00 L294.55,213.00 L294.97,220.40 L294.63,226.00 L294.12,234.00 L293.78,241.00 L293.36,247.60 L292.85,247.60 L292.42,241.00 L292.08,234.00 L291.57,226.00 L291.23,220.40 L291.66,213.00 L292.25,206.00 L292.85,200.30Z" fill="#6f8dc2" stroke="#2f4f8a" stroke-width="0.5" stroke-linejoin="round"/>
<line x1="291.48" y1="216" x2="294.72" y2="216" stroke="#1c3565" stroke-width="0.5" stroke-dasharray="1,0.6"/>
<line x1="291.24" y1="220.5" x2="294.96" y2="220.5" stroke="#1c3565" stroke-width="0.5" stroke-dasharray="1,0.6"/>
<path d="M302.86,218.00 L303.45,222.00 L303.96,227.00 L304.39,233.40 L304.05,239.00 L303.54,245.00 L302.86,252.30 L302.35,252.30 L301.67,245.00 L301.16,239.00 L300.81,233.40 L301.24,227.00 L301.75,222.00 L302.35,218.00Z" fill="#b4e09c" stroke="#62b444" stroke-width="0.5" stroke-linejoin="round"/>
<line x1="301.11" y1="229" x2="304.09" y2="229" stroke="#3d7a2a" stroke-width="0.5" stroke-dasharray="1,0.6"/>
<line x1="300.82" y1="233.5" x2="304.38" y2="233.5" stroke="#3d7a2a" stroke-width="0.5" stroke-dasharray="1,0.6"/>
<line x1="301.09" y1="238" x2="304.11" y2="238" stroke="#3d7a2a" stroke-width="0.5" stroke-dasharray="1,0.6"/>
<path d="M308.75,203.80 L309.26,210.00 L309.86,218.00 L310.37,226.00 L310.45,231.00 L310.03,238.00 L309.44,246.00 L308.75,254.60 L308.25,254.60 L307.56,246.00 L306.97,238.00 L306.55,231.00 L306.63,226.00 L307.14,218.00 L307.74,210.00 L308.25,203.80Z" fill="#6f8dc2" stroke="#2f4f8a" stroke-width="0.5" stroke-linejoin="round"/>
<line x1="306.63" y1="226" x2="310.37" y2="226" stroke="#1c3565" stroke-width="0.5" stroke-dasharray="1,0.6"/>
<line x1="306.55" y1="231" x2="310.45" y2="231" stroke="#1c3565" stroke-width="0.5" stroke-dasharray="1,0.6"/>
<path d="M317.95,245.20 L318.72,247.50 L318.97,249.50 L318.63,251.50 L317.95,254.00 L317.44,254.00 L316.76,251.50 L316.43,249.50 L316.68,247.50 L317.44,245.20Z" fill="#b4e09c" stroke="#62b444" stroke-width="0.5" stroke-linejoin="round"/>
<line x1="316.43" y1="249.5" x2="318.97" y2="249.5" stroke="#3d7a2a" stroke-width="0.5" stroke-dasharray="1,0.6"/>
<path d="M323.36,247.60 L323.95,249.50 L324.12,250.80 L323.87,252.00 L323.36,253.00 L322.85,253.00 L322.34,252.00 L322.08,250.80 L322.25,249.50 L322.85,247.60Z" fill="#6f8dc2" stroke="#2f4f8a" stroke-width="0.5" stroke-linejoin="round"/>
<path d="M318.1,243.6 V240.6 H324.5 V243.6" fill="none" stroke="#222" stroke-width="0.75"/>
<text x="321.1" y="240.1" font-size="5.4" text-anchor="middle" fill="#222" font-weight="normal" >*</text>
<text x="397.1" y="185.19" font-size="6.4" text-anchor="middle" fill="#333" font-weight="normal" textLength="21.6" lengthAdjust="spacingAndGlyphs">Baseline</text>
<text x="452.9" y="185.19" font-size="6.4" text-anchor="middle" fill="#333" font-weight="normal" textLength="14.6" lengthAdjust="spacingAndGlyphs">C1D8</text>
<line x1="372.1" y1="191.4" x2="372.1" y2="261.35" stroke="#1a1a1a" stroke-width="1.0" />
<line x1="369.5" y1="261.35" x2="372.1" y2="261.35" stroke="#1a1a1a" stroke-width="0.9" />
<text x="367.8" y="263.66" font-size="6.5" text-anchor="end" fill="#505050" font-weight="normal" >-20</text>
<line x1="369.5" y1="247.6" x2="372.1" y2="247.6" stroke="#1a1a1a" stroke-width="0.9" />
<text x="367.8" y="249.91" font-size="6.5" text-anchor="end" fill="#505050" font-weight="normal" >0</text>
<line x1="369.5" y1="233.85" x2="372.1" y2="233.85" stroke="#1a1a1a" stroke-width="0.9" />
<text x="367.8" y="236.16" font-size="6.5" text-anchor="end" fill="#505050" font-weight="normal" >20</text>
<line x1="369.5" y1="220.1" x2="372.1" y2="220.1" stroke="#1a1a1a" stroke-width="0.9" />
<text x="367.8" y="222.41" font-size="6.5" text-anchor="end" fill="#505050" font-weight="normal" >40</text>
<line x1="369.5" y1="206.35" x2="372.1" y2="206.35" stroke="#1a1a1a" stroke-width="0.9" />
<text x="367.8" y="208.66" font-size="6.5" text-anchor="end" fill="#505050" font-weight="normal" >60</text>
<line x1="369.5" y1="192.6" x2="372.1" y2="192.6" stroke="#1a1a1a" stroke-width="0.9" />
<text x="367.8" y="194.91" font-size="6.5" text-anchor="end" fill="#505050" font-weight="normal" >80</text>
<line x1="371.6" y1="261.9" x2="476.5" y2="261.9" stroke="#1a1a1a" stroke-width="1.0" />
<line x1="383.5" y1="261.9" x2="383.5" y2="264.29999999999995" stroke="#1a1a1a" stroke-width="0.9" />
<line x1="397.05" y1="261.9" x2="397.05" y2="264.29999999999995" stroke="#1a1a1a" stroke-width="0.9" />
<line x1="410.6" y1="261.9" x2="410.6" y2="264.29999999999995" stroke="#1a1a1a" stroke-width="0.9" />
<line x1="424.15" y1="261.9" x2="424.15" y2="264.29999999999995" stroke="#1a1a1a" stroke-width="0.9" />
<line x1="437.7" y1="261.9" x2="437.7" y2="264.29999999999995" stroke="#1a1a1a" stroke-width="0.9" />
<line x1="451.25" y1="261.9" x2="451.25" y2="264.29999999999995" stroke="#1a1a1a" stroke-width="0.9" />
<line x1="464.8" y1="261.9" x2="464.8" y2="264.29999999999995" stroke="#1a1a1a" stroke-width="0.9" />
<text x="383.7" y="272.45" font-size="6.0" text-anchor="middle" fill="#222" font-weight="normal" >CD4</text>
<text x="411.0" y="272.45" font-size="6.0" text-anchor="middle" fill="#222" font-weight="normal" >CD8</text>
<text x="438.0" y="272.45" font-size="6.0" text-anchor="middle" fill="#222" font-weight="normal" >CD4</text>
<text x="464.7" y="272.45" font-size="6.0" text-anchor="middle" fill="#222" font-weight="normal" >CD8</text>
<text x="0" y="0" font-size="6.3" fill="#1a1a1a" stroke="#1a1a1a" stroke-width="0.12" text-anchor="middle" transform="translate(356.08 221.8) rotate(-90) scale(0.817 1)">% TCF7<tspan font-size="3.6" dy="-2">+ve</tspan><tspan dy="2"> of PD1</tspan><tspan font-size="3.6" dy="-2">+ve</tspan><tspan dy="2">/TIGIT</tspan><tspan font-size="3.6" dy="-2">+ve</tspan></text>
<rect x="458.5" y="191.9" width="5.2" height="5.2" fill="#4fbf3a"/>
<rect x="458.5" y="201.9" width="5.2" height="5.2" fill="#1f4f8f"/>
<text x="466.7" y="196.77" font-size="6.4" text-anchor="start" fill="#222" font-weight="normal" textLength="13.6" lengthAdjust="spacingAndGlyphs">CMR</text>
<text x="466.7" y="206.77" font-size="6.4" text-anchor="start" fill="#222" font-weight="normal" textLength="8.9" lengthAdjust="spacingAndGlyphs">PD</text>
<path d="M379.06,204.90 L379.65,208.00 L380.67,212.00 L381.94,216.90 L382.45,222.40 L381.61,226.00 L380.33,229.50 L379.91,232.30 L380.42,235.50 L381.01,240.00 L380.42,243.50 L379.56,246.50 L379.40,251.00 L379.06,256.40 L378.55,256.40 L378.20,251.00 L378.04,246.50 L377.19,243.50 L376.59,240.00 L377.19,235.50 L377.69,232.30 L377.27,229.50 L376.00,226.00 L375.15,222.40 L375.66,216.90 L376.93,212.00 L377.95,208.00 L378.55,204.90Z" fill="#b4e09c" stroke="#62b444" stroke-width="0.5" stroke-linejoin="round"/>
<line x1="376.59" y1="240" x2="381.01" y2="240" stroke="#3d7a2a" stroke-width="0.5" stroke-dasharray="1,0.6"/>
<line x1="375.2" y1="222.4" x2="382.4" y2="222.4" stroke="#2d5a1e" stroke-width="0.8" />
<path d="M388.86,233.40 L389.37,236.00 L389.96,238.50 L390.30,240.50 L390.81,242.10 L390.39,244.00 L389.88,246.00 L389.45,248.00 L388.86,249.80 L388.35,249.80 L387.75,248.00 L387.33,246.00 L386.81,244.00 L386.39,242.10 L386.90,240.50 L387.24,238.50 L387.84,236.00 L388.35,233.40Z" fill="#6f8dc2" stroke="#2f4f8a" stroke-width="0.5" stroke-linejoin="round"/>
<line x1="386.39" y1="242.1" x2="390.81" y2="242.1" stroke="#1c3565" stroke-width="0.5" stroke-dasharray="1,0.6"/>
<path d="M376.6,203.3 V200.0 H384.8 V203.3" fill="none" stroke="#222" stroke-width="0.75"/>
<text x="381.0" y="199.9" font-size="5.4" text-anchor="middle" fill="#222" font-weight="normal" >**</text>
<path d="M404.86,232.30 L405.88,235.00 L406.64,238.00 L407.15,242.10 L406.56,246.00 L405.79,249.00 L405.28,251.50 L404.86,254.20 L404.35,254.20 L403.92,251.50 L403.41,249.00 L402.65,246.00 L402.05,242.10 L402.56,238.00 L403.33,235.00 L404.35,232.30Z" fill="#b4e09c" stroke="#62b444" stroke-width="0.5" stroke-linejoin="round"/>
<line x1="402.50" y1="238.5" x2="406.70" y2="238.5" stroke="#3d7a2a" stroke-width="0.5" stroke-dasharray="1,0.6"/>
<line x1="402.05" y1="242.1" x2="407.15" y2="242.1" stroke="#3d7a2a" stroke-width="0.5" stroke-dasharray="1,0.6"/>
<line x1="402.65" y1="246" x2="406.56" y2="246" stroke="#3d7a2a" stroke-width="0.5" stroke-dasharray="1,0.6"/>
<path d="M415.65,245.00 L416.67,246.30 L417.10,247.30 L416.59,248.30 L415.65,249.40 L415.14,249.40 L414.21,248.30 L413.70,247.30 L414.12,246.30 L415.14,245.00Z" fill="#6f8dc2" stroke="#2f4f8a" stroke-width="0.5" stroke-linejoin="round"/>
<path d="M433.06,222.70 L433.82,225.00 L434.93,229.20 L434.16,232.90 L435.18,235.50 L435.69,237.50 L434.93,240.50 L433.99,244.00 L433.06,248.70 L432.55,248.70 L431.61,244.00 L430.68,240.50 L429.91,237.50 L430.42,235.50 L431.44,232.90 L430.68,229.20 L431.78,225.00 L432.55,222.70Z" fill="#b4e09c" stroke="#62b444" stroke-width="0.5" stroke-linejoin="round"/>
<line x1="430.68" y1="229.2" x2="434.93" y2="229.2" stroke="#3d7a2a" stroke-width="0.5" stroke-dasharray="1,0.6"/>
<line x1="429.6" y1="237.5" x2="436.0" y2="237.5" stroke="#2d5a1e" stroke-width="0.8" />
<path d="M442.95,237.50 L444.14,239.50 L445.00,242.20 L444.23,244.50 L443.89,245.80 L444.31,247.80 L443.55,249.30 L442.95,250.50 L442.44,250.50 L441.85,249.30 L441.08,247.80 L441.51,245.80 L441.17,244.50 L440.40,242.20 L441.25,239.50 L442.44,237.50Z" fill="#6f8dc2" stroke="#2f4f8a" stroke-width="0.5" stroke-linejoin="round"/>
<line x1="440.40" y1="242.2" x2="445.00" y2="242.2" stroke="#1c3565" stroke-width="0.5" stroke-dasharray="1,0.6"/>
<path d="M433.5,219.1 V215.7 H441.7 V219.1" fill="none" stroke="#222" stroke-width="0.75"/>
<text x="437.6" y="214.0" font-size="5.4" text-anchor="middle" fill="#222" font-weight="normal" >***</text>
<path d="M459.06,242.20 L460.33,243.00 L460.84,244.00 L460.16,245.50 L459.56,247.50 L459.06,249.60 L458.55,249.60 L458.04,247.50 L457.44,245.50 L456.76,244.00 L457.27,243.00 L458.55,242.20Z" fill="#b4e09c" stroke="#62b444" stroke-width="0.5" stroke-linejoin="round"/>
<line x1="456.76" y1="244" x2="460.84" y2="244" stroke="#3d7a2a" stroke-width="0.5" stroke-dasharray="1,0.6"/>
<path d="M469.86,241.80 L470.37,243.50 L470.96,245.20 L471.30,246.30 L470.79,247.80 L469.86,249.60 L469.35,249.60 L468.41,247.80 L467.90,246.30 L468.24,245.20 L468.84,243.50 L469.35,241.80Z" fill="#6f8dc2" stroke="#2f4f8a" stroke-width="0.5" stroke-linejoin="round"/>
<line x1="467.90" y1="246.3" x2="471.30" y2="246.3" stroke="#1c3565" stroke-width="0.5" stroke-dasharray="1,0.6"/>
<rect x="0" y="0" width="520" height="1" fill="#6a6a6a"/>
<rect x="0" y="295" width="520" height="1" fill="#505050"/>
<rect x="0" y="0" width="1" height="296" fill="#4a4a4a"/>
<rect x="519" y="0" width="1" height="296" fill="#333"/>
</svg></body></html>
